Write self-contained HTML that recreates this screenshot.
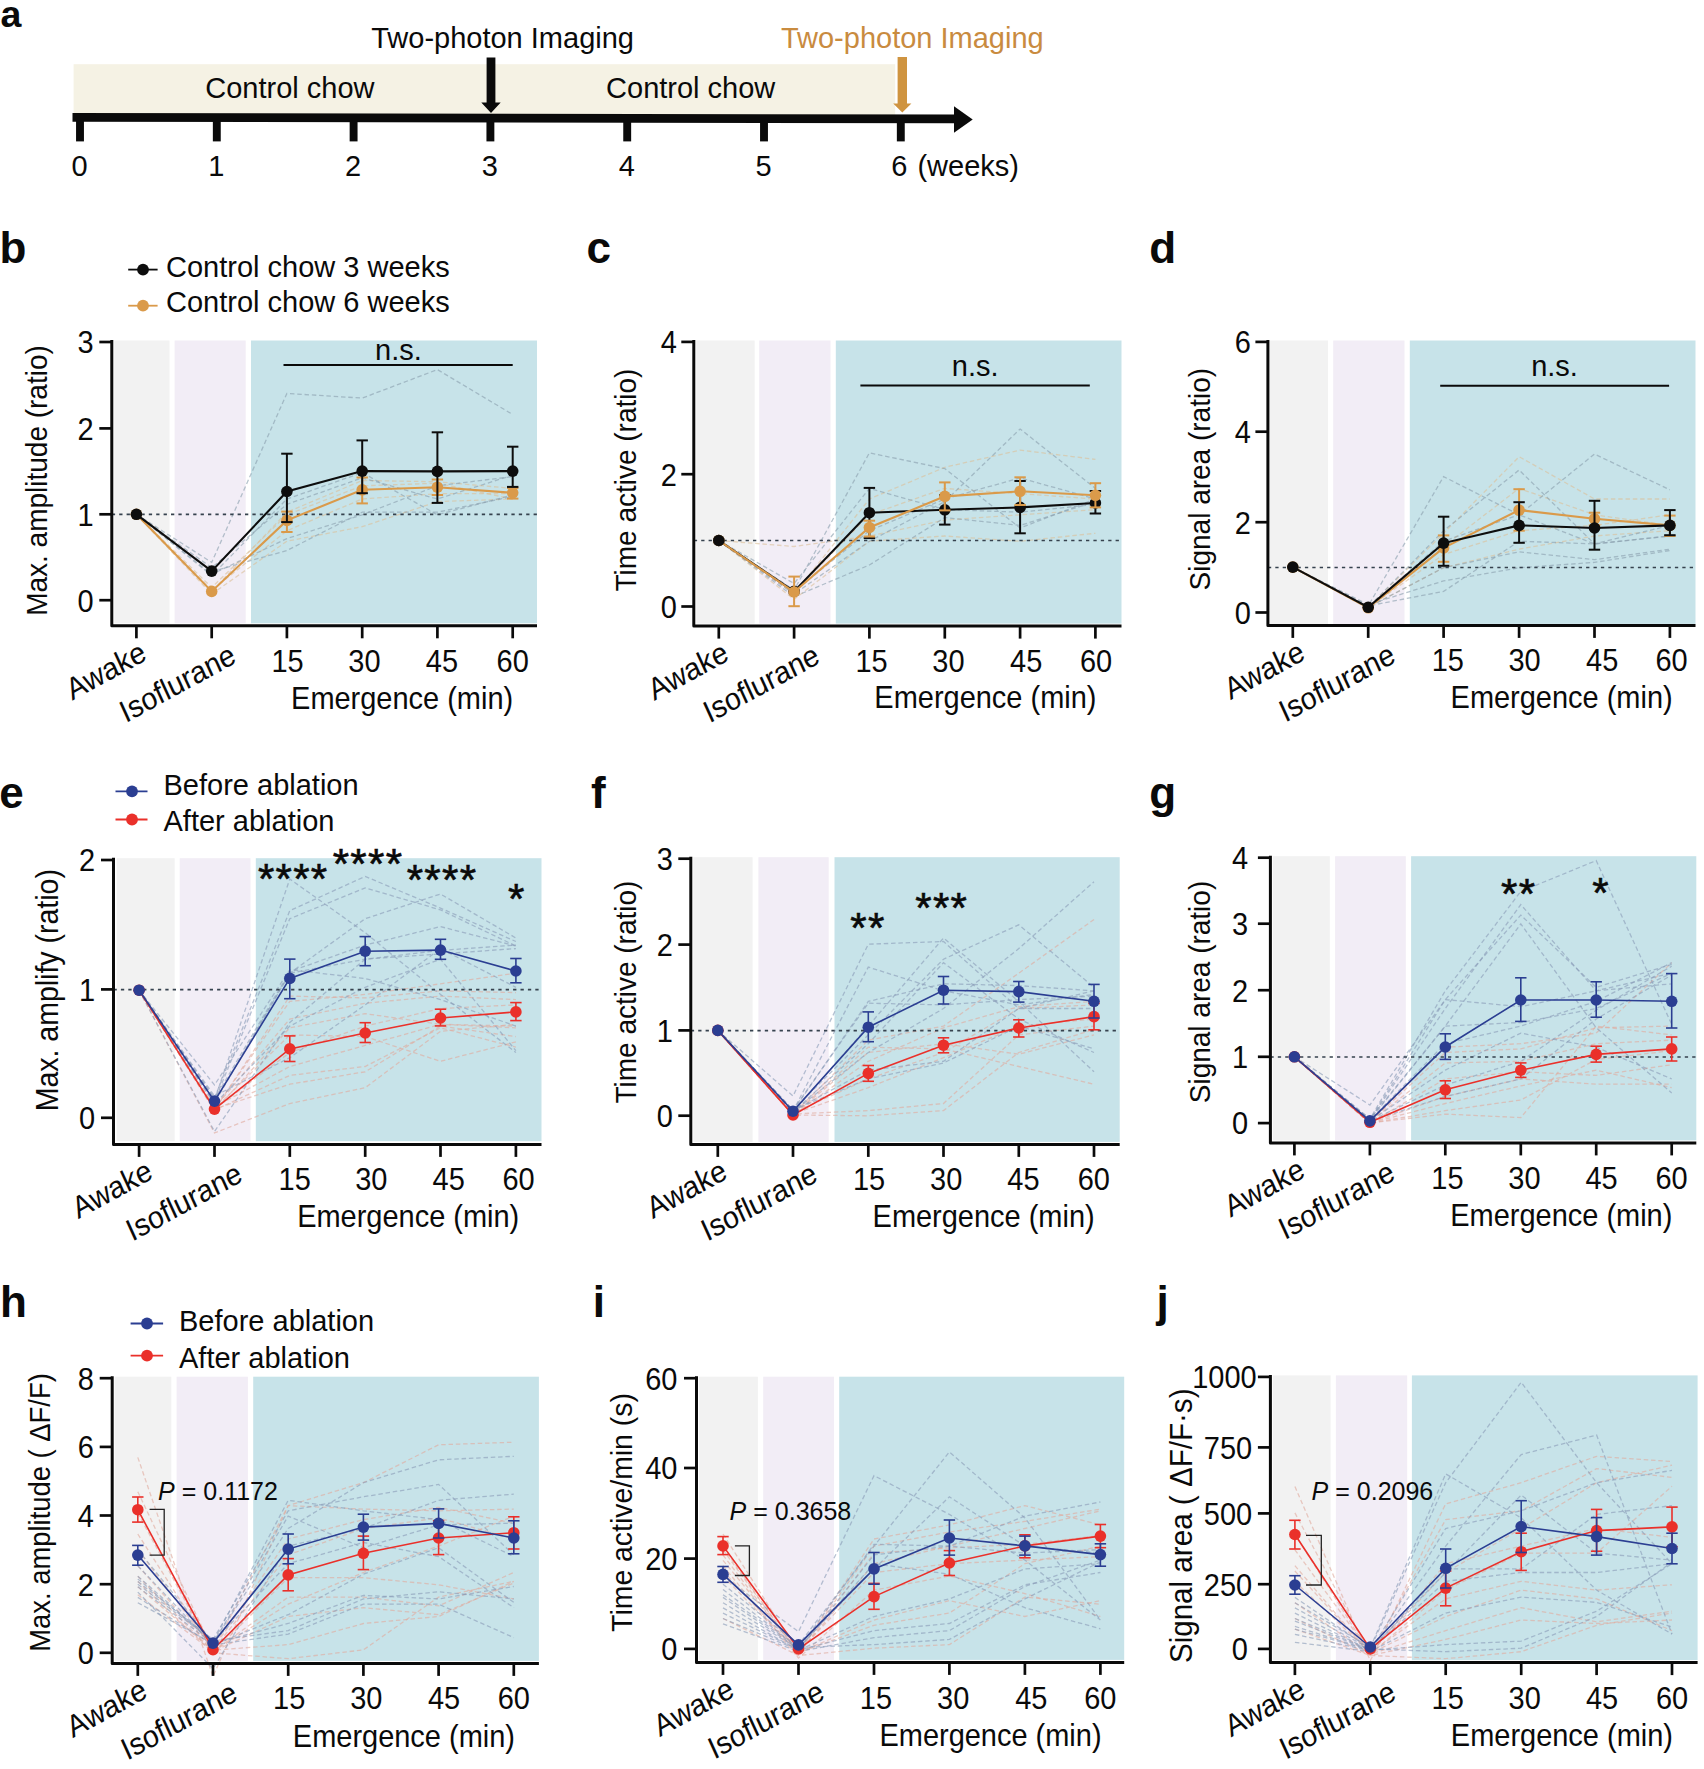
<!DOCTYPE html>
<html><head><meta charset="utf-8"><title>Figure</title>
<style>
html,body{margin:0;padding:0;background:#fff;}
body{width:1704px;height:1769px;overflow:hidden;}
svg{display:block;font-family:"Liberation Sans", sans-serif;fill:#0a0a0a;}
</style></head><body>
<svg width="1704" height="1769" viewBox="0 0 1704 1769">
<text font-size="37.5" font-weight="bold" transform="translate(0.5 26.6) scale(1 1)">a</text>
<rect x="73.6" y="64.2" width="821.6" height="51.0" fill="#f5f2e4"/>
<line x1="72.5" y1="117.3" x2="955.0" y2="118.9" stroke="#0a0a0a" stroke-width="8.8" />
<polygon points="954,106.3 972.7,119.5 954,132.7" fill="#0a0a0a"/>
<line x1="80.0" y1="120.0" x2="80.0" y2="141.4" stroke="#0a0a0a" stroke-width="7.9" />
<text font-size="29" text-anchor="middle" transform="translate(79.5 176.0) scale(1.0 1)">0</text>
<line x1="216.8" y1="120.0" x2="216.8" y2="141.4" stroke="#0a0a0a" stroke-width="7.9" />
<text font-size="29" text-anchor="middle" transform="translate(216.3 176.0) scale(1.0 1)">1</text>
<line x1="353.6" y1="120.0" x2="353.6" y2="141.4" stroke="#0a0a0a" stroke-width="7.9" />
<text font-size="29" text-anchor="middle" transform="translate(353.1 176.0) scale(1.0 1)">2</text>
<line x1="490.4" y1="120.0" x2="490.4" y2="141.4" stroke="#0a0a0a" stroke-width="7.9" />
<text font-size="29" text-anchor="middle" transform="translate(489.9 176.0) scale(1.0 1)">3</text>
<line x1="627.2" y1="120.0" x2="627.2" y2="141.4" stroke="#0a0a0a" stroke-width="7.9" />
<text font-size="29" text-anchor="middle" transform="translate(626.7 176.0) scale(1.0 1)">4</text>
<line x1="764.0" y1="120.0" x2="764.0" y2="141.4" stroke="#0a0a0a" stroke-width="7.9" />
<text font-size="29" text-anchor="middle" transform="translate(763.5 176.0) scale(1.0 1)">5</text>
<line x1="900.8" y1="120.0" x2="900.8" y2="141.4" stroke="#0a0a0a" stroke-width="7.9" />
<text font-size="29" text-anchor="middle" transform="translate(899.2 176.0) scale(1.0 1)">6</text>
<text font-size="29" transform="translate(917.4 176.0) scale(1.0 1)">(weeks)</text>
<text font-size="29" text-anchor="middle" transform="translate(289.9 98.0) scale(1.0 1)">Control chow</text>
<text font-size="29" text-anchor="middle" transform="translate(690.7 98.0) scale(1.0 1)">Control chow</text>
<text font-size="29" text-anchor="middle" transform="translate(502.6 47.5) scale(1.0 1)">Two-photon Imaging</text>
<text font-size="29" text-anchor="middle" fill="#c98b3f" transform="translate(912.3 47.5) scale(1.0 1)">Two-photon Imaging</text>
<polygon points="486.6,57.5 495.4,57.5 495.4,102.5 500.7,102.5 491.0,113 481.3,102.5 486.6,102.5" fill="#0a0a0a"/>
<polygon points="897.6,57 907.0,57 907.0,103.4 911.4,103.4 902.3,112.4 893.2,103.4 897.6,103.4" fill="#cf9440"/>
<rect x="114.3" y="340.5" width="55.2" height="282.8" fill="#f2f2f2"/>
<rect x="174.6" y="340.5" width="71.1" height="282.8" fill="#f2edf6"/>
<rect x="251.0" y="340.5" width="286.0" height="282.8" fill="#c7e3e9"/>
<polyline points="136.4,514.3 211.7,591.4 286.9,512.2 362.2,480.5 437.4,481.8 512.7,488.4" fill="none" stroke="#dcc09a" stroke-width="1.3" stroke-dasharray="4.5 2.8" opacity="0.62"/>
<polyline points="136.4,514.3 211.7,594.1 286.9,541.2 362.2,526.7 437.4,501.6 512.7,499.0" fill="none" stroke="#dcc09a" stroke-width="1.3" stroke-dasharray="4.5 2.8" opacity="0.62"/>
<polyline points="136.4,514.3 211.7,590.1 286.9,530.7 362.2,499.0 437.4,493.7 512.7,493.7" fill="none" stroke="#dcc09a" stroke-width="1.3" stroke-dasharray="4.5 2.8" opacity="0.62"/>
<polyline points="136.4,514.3 211.7,587.5 286.9,514.8 362.2,485.8 437.4,483.2 512.7,499.0" fill="none" stroke="#dcc09a" stroke-width="1.3" stroke-dasharray="4.5 2.8" opacity="0.62"/>
<polyline points="136.4,514.3 211.7,562.4 286.9,393.4 362.2,398.1 437.4,369.6 512.7,414.5" fill="none" stroke="#8aa0ae" stroke-width="1.3" stroke-dasharray="4.5 2.8" opacity="0.62"/>
<polyline points="136.4,514.3 211.7,575.6 286.9,499.0 362.2,472.6 437.4,514.8 512.7,495.0" fill="none" stroke="#8aa0ae" stroke-width="1.3" stroke-dasharray="4.5 2.8" opacity="0.62"/>
<polyline points="136.4,514.3 211.7,574.3 286.9,538.6 362.2,514.8 437.4,485.8 512.7,476.6" fill="none" stroke="#8aa0ae" stroke-width="1.3" stroke-dasharray="4.5 2.8" opacity="0.62"/>
<polyline points="136.4,514.3 211.7,571.6 286.9,550.5 362.2,512.2 437.4,512.2 512.7,496.4" fill="none" stroke="#8aa0ae" stroke-width="1.3" stroke-dasharray="4.5 2.8" opacity="0.62"/>
<polyline points="136.4,514.3 211.7,567.7 286.9,504.3 362.2,477.9 437.4,499.0 512.7,475.2" fill="none" stroke="#8aa0ae" stroke-width="1.3" stroke-dasharray="4.5 2.8" opacity="0.62"/>
<line x1="111.8" y1="514.3" x2="537.0" y2="514.3" stroke="#36424e" stroke-width="1.7" stroke-dasharray="3.3 4.1"/>
<polyline points="111.8,340.0 111.8,625.8 537.0,625.8" fill="none" stroke="#0a0a0a" stroke-width="3" stroke-linejoin="round"/>
<line x1="99.3" y1="342.0" x2="111.8" y2="342.0" stroke="#0a0a0a" stroke-width="2.7" />
<text font-size="31.6" text-anchor="end" transform="translate(93.5 353.3) scale(0.917 1)">3</text>
<line x1="99.3" y1="428.4" x2="111.8" y2="428.4" stroke="#0a0a0a" stroke-width="2.7" />
<text font-size="31.6" text-anchor="end" transform="translate(93.5 439.7) scale(0.917 1)">2</text>
<line x1="99.3" y1="514.3" x2="111.8" y2="514.3" stroke="#0a0a0a" stroke-width="2.7" />
<text font-size="31.6" text-anchor="end" transform="translate(93.5 525.6) scale(0.917 1)">1</text>
<line x1="99.3" y1="600.2" x2="111.8" y2="600.2" stroke="#0a0a0a" stroke-width="2.7" />
<text font-size="31.6" text-anchor="end" transform="translate(93.5 611.5) scale(0.917 1)">0</text>
<line x1="136.4" y1="625.8" x2="136.4" y2="638.3" stroke="#0a0a0a" stroke-width="2.7" />
<line x1="211.7" y1="625.8" x2="211.7" y2="638.3" stroke="#0a0a0a" stroke-width="2.7" />
<line x1="286.9" y1="625.8" x2="286.9" y2="638.3" stroke="#0a0a0a" stroke-width="2.7" />
<line x1="362.2" y1="625.8" x2="362.2" y2="638.3" stroke="#0a0a0a" stroke-width="2.7" />
<line x1="437.4" y1="625.8" x2="437.4" y2="638.3" stroke="#0a0a0a" stroke-width="2.7" />
<line x1="512.7" y1="625.8" x2="512.7" y2="638.3" stroke="#0a0a0a" stroke-width="2.7" />
<text font-size="31.6" text-anchor="middle" transform="translate(287.5 671.9) scale(0.917 1)">15</text>
<text font-size="31.6" text-anchor="middle" transform="translate(364.4 671.9) scale(0.917 1)">30</text>
<text font-size="31.6" text-anchor="middle" transform="translate(441.9 671.9) scale(0.917 1)">45</text>
<text font-size="31.6" text-anchor="middle" transform="translate(512.7 671.9) scale(0.917 1)">60</text>
<text font-size="31.6" text-anchor="middle" transform="translate(402.1 708.5) scale(0.917 1)">Emergence (min)</text>
<text font-size="31.1" text-anchor="end" transform="translate(148.3 659.2) scale(0.917 1) rotate(-26.6)">Awake</text>
<text font-size="31.1" text-anchor="end" transform="translate(237.8 662.0) scale(0.917 1) rotate(-26.6)">Isoflurane</text>
<text font-size="28" text-anchor="middle" transform="translate(47.0 480.5) scale(1.07 1) rotate(-90)">Max. amplitude (ratio)</text>
<polyline points="136.4,514.3 211.7,591.4 286.9,520.4 362.2,489.8 437.4,487.2 512.7,492.8" fill="none" stroke="#da9a4a" stroke-width="2.1" />
<line x1="286.9" y1="511.6" x2="286.9" y2="532.0" stroke="#da9a4a" stroke-width="2.0" />
<line x1="281.2" y1="511.6" x2="292.6" y2="511.6" stroke="#da9a4a" stroke-width="2.0" />
<line x1="281.2" y1="532.0" x2="292.6" y2="532.0" stroke="#da9a4a" stroke-width="2.0" />
<line x1="362.2" y1="477.5" x2="362.2" y2="503.4" stroke="#da9a4a" stroke-width="2.0" />
<line x1="356.5" y1="477.5" x2="367.9" y2="477.5" stroke="#da9a4a" stroke-width="2.0" />
<line x1="356.5" y1="503.4" x2="367.9" y2="503.4" stroke="#da9a4a" stroke-width="2.0" />
<line x1="437.4" y1="479.5" x2="437.4" y2="495.0" stroke="#da9a4a" stroke-width="2.0" />
<line x1="431.7" y1="479.5" x2="443.1" y2="479.5" stroke="#da9a4a" stroke-width="2.0" />
<line x1="431.7" y1="495.0" x2="443.1" y2="495.0" stroke="#da9a4a" stroke-width="2.0" />
<line x1="512.7" y1="488.0" x2="512.7" y2="498.6" stroke="#da9a4a" stroke-width="2.0" />
<line x1="507.0" y1="488.0" x2="518.4" y2="488.0" stroke="#da9a4a" stroke-width="2.0" />
<line x1="507.0" y1="498.6" x2="518.4" y2="498.6" stroke="#da9a4a" stroke-width="2.0" />
<circle cx="136.4" cy="514.3" r="5.8" fill="#da9a4a"/>
<circle cx="211.7" cy="591.4" r="5.8" fill="#da9a4a"/>
<circle cx="286.9" cy="520.4" r="5.8" fill="#da9a4a"/>
<circle cx="362.2" cy="489.8" r="5.8" fill="#da9a4a"/>
<circle cx="437.4" cy="487.2" r="5.8" fill="#da9a4a"/>
<circle cx="512.7" cy="492.8" r="5.8" fill="#da9a4a"/>
<polyline points="136.4,514.3 211.7,571.1 286.9,491.5 362.2,471.1 437.4,471.4 512.7,471.1" fill="none" stroke="#0d0d0d" stroke-width="2.1" />
<line x1="286.9" y1="453.7" x2="286.9" y2="522.1" stroke="#0d0d0d" stroke-width="2.0" />
<line x1="281.2" y1="453.7" x2="292.6" y2="453.7" stroke="#0d0d0d" stroke-width="2.0" />
<line x1="281.2" y1="522.1" x2="292.6" y2="522.1" stroke="#0d0d0d" stroke-width="2.0" />
<line x1="362.2" y1="440.4" x2="362.2" y2="493.2" stroke="#0d0d0d" stroke-width="2.0" />
<line x1="356.5" y1="440.4" x2="367.9" y2="440.4" stroke="#0d0d0d" stroke-width="2.0" />
<line x1="356.5" y1="493.2" x2="367.9" y2="493.2" stroke="#0d0d0d" stroke-width="2.0" />
<line x1="437.4" y1="432.3" x2="437.4" y2="502.9" stroke="#0d0d0d" stroke-width="2.0" />
<line x1="431.7" y1="432.3" x2="443.1" y2="432.3" stroke="#0d0d0d" stroke-width="2.0" />
<line x1="431.7" y1="502.9" x2="443.1" y2="502.9" stroke="#0d0d0d" stroke-width="2.0" />
<line x1="512.7" y1="446.7" x2="512.7" y2="486.9" stroke="#0d0d0d" stroke-width="2.0" />
<line x1="507.0" y1="446.7" x2="518.4" y2="446.7" stroke="#0d0d0d" stroke-width="2.0" />
<line x1="507.0" y1="486.9" x2="518.4" y2="486.9" stroke="#0d0d0d" stroke-width="2.0" />
<circle cx="136.4" cy="514.3" r="5.8" fill="#0d0d0d"/>
<circle cx="211.7" cy="571.1" r="5.8" fill="#0d0d0d"/>
<circle cx="286.9" cy="491.5" r="5.8" fill="#0d0d0d"/>
<circle cx="362.2" cy="471.1" r="5.8" fill="#0d0d0d"/>
<circle cx="437.4" cy="471.4" r="5.8" fill="#0d0d0d"/>
<circle cx="512.7" cy="471.1" r="5.8" fill="#0d0d0d"/>
<text font-size="44" font-weight="bold" transform="translate(-0.6 262.5) scale(1 1)">b</text>
<line x1="283.5" y1="364.9" x2="512.7" y2="364.9" stroke="#0a0a0a" stroke-width="2" />
<text font-size="29" text-anchor="middle" transform="translate(398.4 359.6) scale(1.0 1)">n.s.</text>
<line x1="128.2" y1="269.6" x2="157.6" y2="269.6" stroke="#0d0d0d" stroke-width="1.8" />
<circle cx="143.0" cy="269.6" r="5.9" fill="#0d0d0d"/>
<line x1="128.2" y1="305.7" x2="157.6" y2="305.7" stroke="#da9a4a" stroke-width="1.8" />
<circle cx="143.0" cy="305.7" r="5.9" fill="#da9a4a"/>
<text font-size="29" transform="translate(166.0 277.2) scale(1.0 1)">Control chow 3 weeks</text>
<text font-size="29" transform="translate(166.0 312.4) scale(1.0 1)">Control chow 6 weeks</text>
<rect x="696.3" y="340.5" width="58.4" height="283.1" fill="#f2f2f2"/>
<rect x="759.2" y="340.5" width="71.3" height="283.1" fill="#f2edf6"/>
<rect x="835.8" y="340.5" width="285.7" height="283.1" fill="#c7e3e9"/>
<polyline points="718.8,540.5 794.1,594.1 869.4,499.0 944.8,467.3 1020.1,450.1 1095.4,459.4" fill="none" stroke="#dcc09a" stroke-width="1.3" stroke-dasharray="4.5 2.8" opacity="0.62"/>
<polyline points="718.8,540.5 794.1,546.5 869.4,536.0 944.8,520.1 1020.1,514.8 1095.4,509.6" fill="none" stroke="#dcc09a" stroke-width="1.3" stroke-dasharray="4.5 2.8" opacity="0.62"/>
<polyline points="718.8,540.5 794.1,599.3 869.4,541.2 944.8,536.0 1020.1,541.2 1095.4,533.3" fill="none" stroke="#dcc09a" stroke-width="1.3" stroke-dasharray="4.5 2.8" opacity="0.62"/>
<polyline points="718.8,540.5 794.1,592.7 869.4,514.8 944.8,488.4 1020.1,493.7 1095.4,499.0" fill="none" stroke="#dcc09a" stroke-width="1.3" stroke-dasharray="4.5 2.8" opacity="0.62"/>
<polyline points="718.8,540.5 794.1,590.1 869.4,452.8 944.8,468.6 1020.1,528.0 1095.4,499.0" fill="none" stroke="#8aa0ae" stroke-width="1.3" stroke-dasharray="4.5 2.8" opacity="0.62"/>
<polyline points="718.8,540.5 794.1,594.1 869.4,541.2 944.8,501.6 1020.1,429.0 1095.4,488.4" fill="none" stroke="#8aa0ae" stroke-width="1.3" stroke-dasharray="4.5 2.8" opacity="0.62"/>
<polyline points="718.8,540.5 794.1,583.5 869.4,488.4 944.8,509.6 1020.1,512.2 1095.4,504.3" fill="none" stroke="#8aa0ae" stroke-width="1.3" stroke-dasharray="4.5 2.8" opacity="0.62"/>
<polyline points="718.8,540.5 794.1,596.7 869.4,565.0 944.8,517.5 1020.1,525.4 1095.4,501.6" fill="none" stroke="#8aa0ae" stroke-width="1.3" stroke-dasharray="4.5 2.8" opacity="0.62"/>
<polyline points="718.8,540.5 794.1,591.4 869.4,530.7 944.8,499.0 1020.1,477.9 1095.4,499.0" fill="none" stroke="#8aa0ae" stroke-width="1.3" stroke-dasharray="4.5 2.8" opacity="0.62"/>
<line x1="693.8" y1="540.5" x2="1121.5" y2="540.5" stroke="#36424e" stroke-width="1.7" stroke-dasharray="3.3 4.1"/>
<polyline points="693.8,340.0 693.8,626.1 1121.5,626.1" fill="none" stroke="#0a0a0a" stroke-width="3" stroke-linejoin="round"/>
<line x1="681.3" y1="341.9" x2="693.8" y2="341.9" stroke="#0a0a0a" stroke-width="2.7" />
<text font-size="31.6" text-anchor="end" transform="translate(676.9 353.2) scale(0.917 1)">4</text>
<line x1="681.3" y1="474.2" x2="693.8" y2="474.2" stroke="#0a0a0a" stroke-width="2.7" />
<text font-size="31.6" text-anchor="end" transform="translate(676.9 485.5) scale(0.917 1)">2</text>
<line x1="681.3" y1="606.5" x2="693.8" y2="606.5" stroke="#0a0a0a" stroke-width="2.7" />
<text font-size="31.6" text-anchor="end" transform="translate(676.9 617.8) scale(0.917 1)">0</text>
<line x1="718.8" y1="626.1" x2="718.8" y2="638.6" stroke="#0a0a0a" stroke-width="2.7" />
<line x1="794.1" y1="626.1" x2="794.1" y2="638.6" stroke="#0a0a0a" stroke-width="2.7" />
<line x1="869.4" y1="626.1" x2="869.4" y2="638.6" stroke="#0a0a0a" stroke-width="2.7" />
<line x1="944.8" y1="626.1" x2="944.8" y2="638.6" stroke="#0a0a0a" stroke-width="2.7" />
<line x1="1020.1" y1="626.1" x2="1020.1" y2="638.6" stroke="#0a0a0a" stroke-width="2.7" />
<line x1="1095.4" y1="626.1" x2="1095.4" y2="638.6" stroke="#0a0a0a" stroke-width="2.7" />
<text font-size="31.6" text-anchor="middle" transform="translate(871.5 671.7) scale(0.917 1)">15</text>
<text font-size="31.6" text-anchor="middle" transform="translate(948.4 671.7) scale(0.917 1)">30</text>
<text font-size="31.6" text-anchor="middle" transform="translate(1026.2 671.7) scale(0.917 1)">45</text>
<text font-size="31.6" text-anchor="middle" transform="translate(1096.0 671.7) scale(0.917 1)">60</text>
<text font-size="31.6" text-anchor="middle" transform="translate(985.4 708.3) scale(0.917 1)">Emergence (min)</text>
<text font-size="31.1" text-anchor="end" transform="translate(730.4 659.5) scale(0.917 1) rotate(-26.6)">Awake</text>
<text font-size="31.1" text-anchor="end" transform="translate(821.5 662.3) scale(0.917 1) rotate(-26.6)">Isoflurane</text>
<text font-size="28" text-anchor="middle" transform="translate(636.4 480.1) scale(1.07 1) rotate(-90)">Time active (ratio)</text>
<polyline points="718.8,540.5 794.1,591.4 869.4,512.7 944.8,509.8 1020.1,507.4 1095.4,503.0" fill="none" stroke="#0d0d0d" stroke-width="2.1" />
<line x1="869.4" y1="487.9" x2="869.4" y2="538.1" stroke="#0d0d0d" stroke-width="2.0" />
<line x1="863.7" y1="487.9" x2="875.1" y2="487.9" stroke="#0d0d0d" stroke-width="2.0" />
<line x1="863.7" y1="538.1" x2="875.1" y2="538.1" stroke="#0d0d0d" stroke-width="2.0" />
<line x1="944.8" y1="495.0" x2="944.8" y2="524.6" stroke="#0d0d0d" stroke-width="2.0" />
<line x1="939.1" y1="495.0" x2="950.5" y2="495.0" stroke="#0d0d0d" stroke-width="2.0" />
<line x1="939.1" y1="524.6" x2="950.5" y2="524.6" stroke="#0d0d0d" stroke-width="2.0" />
<line x1="1020.1" y1="481.0" x2="1020.1" y2="533.3" stroke="#0d0d0d" stroke-width="2.0" />
<line x1="1014.4" y1="481.0" x2="1025.8" y2="481.0" stroke="#0d0d0d" stroke-width="2.0" />
<line x1="1014.4" y1="533.3" x2="1025.8" y2="533.3" stroke="#0d0d0d" stroke-width="2.0" />
<line x1="1095.4" y1="491.0" x2="1095.4" y2="513.5" stroke="#0d0d0d" stroke-width="2.0" />
<line x1="1089.7" y1="491.0" x2="1101.1" y2="491.0" stroke="#0d0d0d" stroke-width="2.0" />
<line x1="1089.7" y1="513.5" x2="1101.1" y2="513.5" stroke="#0d0d0d" stroke-width="2.0" />
<circle cx="718.8" cy="540.5" r="5.8" fill="#0d0d0d"/>
<circle cx="794.1" cy="591.4" r="5.8" fill="#0d0d0d"/>
<circle cx="869.4" cy="512.7" r="5.8" fill="#0d0d0d"/>
<circle cx="944.8" cy="509.8" r="5.8" fill="#0d0d0d"/>
<circle cx="1020.1" cy="507.4" r="5.8" fill="#0d0d0d"/>
<circle cx="1095.4" cy="503.0" r="5.8" fill="#0d0d0d"/>
<polyline points="718.8,540.5 794.1,592.0 869.4,527.5 944.8,496.4 1020.1,491.3 1095.4,495.3" fill="none" stroke="#da9a4a" stroke-width="2.1" />
<line x1="794.1" y1="576.6" x2="794.1" y2="606.2" stroke="#da9a4a" stroke-width="2.0" />
<line x1="788.4" y1="576.6" x2="799.8" y2="576.6" stroke="#da9a4a" stroke-width="2.0" />
<line x1="788.4" y1="606.2" x2="799.8" y2="606.2" stroke="#da9a4a" stroke-width="2.0" />
<line x1="869.4" y1="520.7" x2="869.4" y2="536.5" stroke="#da9a4a" stroke-width="2.0" />
<line x1="863.7" y1="520.7" x2="875.1" y2="520.7" stroke="#da9a4a" stroke-width="2.0" />
<line x1="863.7" y1="536.5" x2="875.1" y2="536.5" stroke="#da9a4a" stroke-width="2.0" />
<line x1="944.8" y1="482.4" x2="944.8" y2="510.4" stroke="#da9a4a" stroke-width="2.0" />
<line x1="939.1" y1="482.4" x2="950.5" y2="482.4" stroke="#da9a4a" stroke-width="2.0" />
<line x1="939.1" y1="510.4" x2="950.5" y2="510.4" stroke="#da9a4a" stroke-width="2.0" />
<line x1="1020.1" y1="477.3" x2="1020.1" y2="505.0" stroke="#da9a4a" stroke-width="2.0" />
<line x1="1014.4" y1="477.3" x2="1025.8" y2="477.3" stroke="#da9a4a" stroke-width="2.0" />
<line x1="1014.4" y1="505.0" x2="1025.8" y2="505.0" stroke="#da9a4a" stroke-width="2.0" />
<line x1="1095.4" y1="483.2" x2="1095.4" y2="507.4" stroke="#da9a4a" stroke-width="2.0" />
<line x1="1089.7" y1="483.2" x2="1101.1" y2="483.2" stroke="#da9a4a" stroke-width="2.0" />
<line x1="1089.7" y1="507.4" x2="1101.1" y2="507.4" stroke="#da9a4a" stroke-width="2.0" />
<circle cx="718.8" cy="540.5" r="5.8" fill="#da9a4a"/>
<circle cx="794.1" cy="592.0" r="5.8" fill="#da9a4a"/>
<circle cx="869.4" cy="527.5" r="5.8" fill="#da9a4a"/>
<circle cx="944.8" cy="496.4" r="5.8" fill="#da9a4a"/>
<circle cx="1020.1" cy="491.3" r="5.8" fill="#da9a4a"/>
<circle cx="1095.4" cy="495.3" r="5.8" fill="#da9a4a"/>
<circle cx="718.8" cy="540.5" r="5.8" fill="#0d0d0d"/>
<text font-size="44" font-weight="bold" transform="translate(586.4 262.5) scale(1 1)">c</text>
<line x1="860.4" y1="385.5" x2="1089.8" y2="385.5" stroke="#0a0a0a" stroke-width="2" />
<text font-size="29" text-anchor="middle" transform="translate(975.2 376.2) scale(1.0 1)">n.s.</text>
<rect x="1269.4" y="340.5" width="58.6" height="283.4" fill="#f2f2f2"/>
<rect x="1333.2" y="340.5" width="71.3" height="283.4" fill="#f2edf6"/>
<rect x="1409.8" y="340.5" width="285.7" height="283.4" fill="#c7e3e9"/>
<polyline points="1292.8,567.1 1368.2,607.3 1443.6,533.3 1519.1,456.7 1594.5,499.0 1669.9,499.0" fill="none" stroke="#dcc09a" stroke-width="1.3" stroke-dasharray="4.5 2.8" opacity="0.62"/>
<polyline points="1292.8,567.1 1368.2,608.6 1443.6,546.5 1519.1,488.4 1594.5,514.8 1669.9,525.4" fill="none" stroke="#dcc09a" stroke-width="1.3" stroke-dasharray="4.5 2.8" opacity="0.62"/>
<polyline points="1292.8,567.1 1368.2,607.3 1443.6,567.7 1519.1,549.2 1594.5,536.0 1669.9,530.7" fill="none" stroke="#dcc09a" stroke-width="1.3" stroke-dasharray="4.5 2.8" opacity="0.62"/>
<polyline points="1292.8,567.1 1368.2,607.8 1443.6,554.5 1519.1,530.7 1594.5,525.4 1669.9,514.8" fill="none" stroke="#dcc09a" stroke-width="1.3" stroke-dasharray="4.5 2.8" opacity="0.62"/>
<polyline points="1292.8,567.1 1368.2,605.9 1443.6,476.6 1519.1,514.8 1594.5,543.9 1669.9,536.0" fill="none" stroke="#8aa0ae" stroke-width="1.3" stroke-dasharray="4.5 2.8" opacity="0.62"/>
<polyline points="1292.8,567.1 1368.2,607.3 1443.6,530.7 1519.1,470.0 1594.5,543.9 1669.9,525.4" fill="none" stroke="#8aa0ae" stroke-width="1.3" stroke-dasharray="4.5 2.8" opacity="0.62"/>
<polyline points="1292.8,567.1 1368.2,607.3 1443.6,541.2 1519.1,514.8 1594.5,454.1 1669.9,489.8" fill="none" stroke="#8aa0ae" stroke-width="1.3" stroke-dasharray="4.5 2.8" opacity="0.62"/>
<polyline points="1292.8,567.1 1368.2,605.9 1443.6,591.4 1519.1,541.2 1594.5,543.9 1669.9,536.0" fill="none" stroke="#8aa0ae" stroke-width="1.3" stroke-dasharray="4.5 2.8" opacity="0.62"/>
<polyline points="1292.8,567.1 1368.2,607.3 1443.6,567.7 1519.1,551.8 1594.5,559.7 1669.9,549.2" fill="none" stroke="#8aa0ae" stroke-width="1.3" stroke-dasharray="4.5 2.8" opacity="0.62"/>
<polyline points="1292.8,567.1 1368.2,604.6 1443.6,580.9 1519.1,567.7 1594.5,562.4 1669.9,550.5" fill="none" stroke="#8aa0ae" stroke-width="1.3" stroke-dasharray="4.5 2.8" opacity="0.62"/>
<line x1="1267.9" y1="567.5" x2="1695.5" y2="567.5" stroke="#36424e" stroke-width="1.7" stroke-dasharray="3.3 4.1"/>
<polyline points="1267.9,340.0 1267.9,625.4 1695.5,625.4" fill="none" stroke="#0a0a0a" stroke-width="3" stroke-linejoin="round"/>
<line x1="1255.4" y1="341.9" x2="1267.9" y2="341.9" stroke="#0a0a0a" stroke-width="2.7" />
<text font-size="31.6" text-anchor="end" transform="translate(1250.8 353.2) scale(0.917 1)">6</text>
<line x1="1255.4" y1="431.7" x2="1267.9" y2="431.7" stroke="#0a0a0a" stroke-width="2.7" />
<text font-size="31.6" text-anchor="end" transform="translate(1250.8 443.0) scale(0.917 1)">4</text>
<line x1="1255.4" y1="522.2" x2="1267.9" y2="522.2" stroke="#0a0a0a" stroke-width="2.7" />
<text font-size="31.6" text-anchor="end" transform="translate(1250.8 533.5) scale(0.917 1)">2</text>
<line x1="1255.4" y1="612.5" x2="1267.9" y2="612.5" stroke="#0a0a0a" stroke-width="2.7" />
<text font-size="31.6" text-anchor="end" transform="translate(1250.8 623.8) scale(0.917 1)">0</text>
<line x1="1292.8" y1="625.4" x2="1292.8" y2="637.9" stroke="#0a0a0a" stroke-width="2.7" />
<line x1="1368.2" y1="625.4" x2="1368.2" y2="637.9" stroke="#0a0a0a" stroke-width="2.7" />
<line x1="1443.6" y1="625.4" x2="1443.6" y2="637.9" stroke="#0a0a0a" stroke-width="2.7" />
<line x1="1519.1" y1="625.4" x2="1519.1" y2="637.9" stroke="#0a0a0a" stroke-width="2.7" />
<line x1="1594.5" y1="625.4" x2="1594.5" y2="637.9" stroke="#0a0a0a" stroke-width="2.7" />
<line x1="1669.9" y1="625.4" x2="1669.9" y2="637.9" stroke="#0a0a0a" stroke-width="2.7" />
<text font-size="31.6" text-anchor="middle" transform="translate(1447.8 670.8) scale(0.917 1)">15</text>
<text font-size="31.6" text-anchor="middle" transform="translate(1524.5 670.8) scale(0.917 1)">30</text>
<text font-size="31.6" text-anchor="middle" transform="translate(1602.2 670.8) scale(0.917 1)">45</text>
<text font-size="31.6" text-anchor="middle" transform="translate(1671.6 670.8) scale(0.917 1)">60</text>
<text font-size="31.6" text-anchor="middle" transform="translate(1561.6 707.7) scale(0.917 1)">Emergence (min)</text>
<text font-size="31.1" text-anchor="end" transform="translate(1306.6 658.8) scale(0.917 1) rotate(-26.6)">Awake</text>
<text font-size="31.1" text-anchor="end" transform="translate(1397.2 661.6) scale(0.917 1) rotate(-26.6)">Isoflurane</text>
<text font-size="28" text-anchor="middle" transform="translate(1210.3 479.2) scale(1.07 1) rotate(-90)">Signal area (ratio)</text>
<polyline points="1292.8,567.1 1368.2,607.8 1443.6,547.9 1519.1,510.1 1594.5,518.8 1669.9,525.4" fill="none" stroke="#da9a4a" stroke-width="2.1" />
<line x1="1443.6" y1="535.4" x2="1443.6" y2="561.8" stroke="#da9a4a" stroke-width="2.0" />
<line x1="1437.9" y1="535.4" x2="1449.3" y2="535.4" stroke="#da9a4a" stroke-width="2.0" />
<line x1="1437.9" y1="561.8" x2="1449.3" y2="561.8" stroke="#da9a4a" stroke-width="2.0" />
<line x1="1519.1" y1="489.2" x2="1519.1" y2="530.7" stroke="#da9a4a" stroke-width="2.0" />
<line x1="1513.4" y1="489.2" x2="1524.8" y2="489.2" stroke="#da9a4a" stroke-width="2.0" />
<line x1="1513.4" y1="530.7" x2="1524.8" y2="530.7" stroke="#da9a4a" stroke-width="2.0" />
<line x1="1594.5" y1="512.7" x2="1594.5" y2="525.4" stroke="#da9a4a" stroke-width="2.0" />
<line x1="1588.8" y1="512.7" x2="1600.2" y2="512.7" stroke="#da9a4a" stroke-width="2.0" />
<line x1="1588.8" y1="525.4" x2="1600.2" y2="525.4" stroke="#da9a4a" stroke-width="2.0" />
<line x1="1669.9" y1="515.6" x2="1669.9" y2="536.0" stroke="#da9a4a" stroke-width="2.0" />
<line x1="1664.2" y1="515.6" x2="1675.6" y2="515.6" stroke="#da9a4a" stroke-width="2.0" />
<line x1="1664.2" y1="536.0" x2="1675.6" y2="536.0" stroke="#da9a4a" stroke-width="2.0" />
<circle cx="1292.8" cy="567.1" r="5.8" fill="#da9a4a"/>
<circle cx="1368.2" cy="607.8" r="5.8" fill="#da9a4a"/>
<circle cx="1443.6" cy="547.9" r="5.8" fill="#da9a4a"/>
<circle cx="1519.1" cy="510.1" r="5.8" fill="#da9a4a"/>
<circle cx="1594.5" cy="518.8" r="5.8" fill="#da9a4a"/>
<circle cx="1669.9" cy="525.4" r="5.8" fill="#da9a4a"/>
<polyline points="1292.8,567.1 1368.2,607.3 1443.6,543.1 1519.1,525.4 1594.5,528.0 1669.9,525.4" fill="none" stroke="#0d0d0d" stroke-width="2.1" />
<line x1="1443.6" y1="516.7" x2="1443.6" y2="565.8" stroke="#0d0d0d" stroke-width="2.0" />
<line x1="1437.9" y1="516.7" x2="1449.3" y2="516.7" stroke="#0d0d0d" stroke-width="2.0" />
<line x1="1437.9" y1="565.8" x2="1449.3" y2="565.8" stroke="#0d0d0d" stroke-width="2.0" />
<line x1="1519.1" y1="502.2" x2="1519.1" y2="542.8" stroke="#0d0d0d" stroke-width="2.0" />
<line x1="1513.4" y1="502.2" x2="1524.8" y2="502.2" stroke="#0d0d0d" stroke-width="2.0" />
<line x1="1513.4" y1="542.8" x2="1524.8" y2="542.8" stroke="#0d0d0d" stroke-width="2.0" />
<line x1="1594.5" y1="500.8" x2="1594.5" y2="549.7" stroke="#0d0d0d" stroke-width="2.0" />
<line x1="1588.8" y1="500.8" x2="1600.2" y2="500.8" stroke="#0d0d0d" stroke-width="2.0" />
<line x1="1588.8" y1="549.7" x2="1600.2" y2="549.7" stroke="#0d0d0d" stroke-width="2.0" />
<line x1="1669.9" y1="510.1" x2="1669.9" y2="535.2" stroke="#0d0d0d" stroke-width="2.0" />
<line x1="1664.2" y1="510.1" x2="1675.6" y2="510.1" stroke="#0d0d0d" stroke-width="2.0" />
<line x1="1664.2" y1="535.2" x2="1675.6" y2="535.2" stroke="#0d0d0d" stroke-width="2.0" />
<circle cx="1292.8" cy="567.1" r="5.8" fill="#0d0d0d"/>
<circle cx="1368.2" cy="607.3" r="5.8" fill="#0d0d0d"/>
<circle cx="1443.6" cy="543.1" r="5.8" fill="#0d0d0d"/>
<circle cx="1519.1" cy="525.4" r="5.8" fill="#0d0d0d"/>
<circle cx="1594.5" cy="528.0" r="5.8" fill="#0d0d0d"/>
<circle cx="1669.9" cy="525.4" r="5.8" fill="#0d0d0d"/>
<text font-size="44" font-weight="bold" transform="translate(1149.2 262.5) scale(1 1)">d</text>
<line x1="1440.2" y1="385.7" x2="1669.1" y2="385.7" stroke="#0a0a0a" stroke-width="2" />
<text font-size="29" text-anchor="middle" transform="translate(1554.5 376.2) scale(1.0 1)">n.s.</text>
<rect x="116.7" y="858.2" width="58.0" height="283.0" fill="#f2f2f2"/>
<rect x="179.7" y="858.2" width="70.8" height="283.0" fill="#f2edf6"/>
<rect x="255.8" y="858.2" width="285.7" height="283.0" fill="#c7e3e9"/>
<polyline points="139.1,990.2 214.5,1109.0 289.8,1001.4 365.2,994.4 440.5,983.8 515.9,973.2" fill="none" stroke="#e0ab9e" stroke-width="1.3" stroke-dasharray="4.5 2.8" opacity="0.62"/>
<polyline points="139.1,990.2 214.5,1110.0 289.8,996.1 365.2,997.9 440.5,990.8 515.9,992.6" fill="none" stroke="#e0ab9e" stroke-width="1.3" stroke-dasharray="4.5 2.8" opacity="0.62"/>
<polyline points="139.1,990.2 214.5,1108.0 289.8,1019.0 365.2,1003.2 440.5,996.1 515.9,999.6" fill="none" stroke="#e0ab9e" stroke-width="1.3" stroke-dasharray="4.5 2.8" opacity="0.62"/>
<polyline points="139.1,990.2 214.5,1111.0 289.8,1027.8 365.2,1013.7 440.5,1024.3 515.9,1026.1" fill="none" stroke="#e0ab9e" stroke-width="1.3" stroke-dasharray="4.5 2.8" opacity="0.62"/>
<polyline points="139.1,990.2 214.5,1109.0 289.8,1034.9 365.2,1036.6 440.5,1061.3 515.9,1041.9" fill="none" stroke="#e0ab9e" stroke-width="1.3" stroke-dasharray="4.5 2.8" opacity="0.62"/>
<polyline points="139.1,990.2 214.5,1107.0 289.8,1066.5 365.2,1045.4 440.5,1024.3 515.9,1027.8" fill="none" stroke="#e0ab9e" stroke-width="1.3" stroke-dasharray="4.5 2.8" opacity="0.62"/>
<polyline points="139.1,990.2 214.5,1110.0 289.8,1075.4 365.2,1066.5 440.5,1027.8 515.9,1047.2" fill="none" stroke="#e0ab9e" stroke-width="1.3" stroke-dasharray="4.5 2.8" opacity="0.62"/>
<polyline points="139.1,990.2 214.5,1109.0 289.8,1084.2 365.2,1071.8 440.5,1026.1 515.9,1036.6" fill="none" stroke="#e0ab9e" stroke-width="1.3" stroke-dasharray="4.5 2.8" opacity="0.62"/>
<polyline points="139.1,990.2 214.5,1133.0 289.8,1103.5 365.2,1087.7 440.5,1031.3 515.9,1024.3" fill="none" stroke="#e0ab9e" stroke-width="1.3" stroke-dasharray="4.5 2.8" opacity="0.62"/>
<polyline points="139.1,990.2 214.5,1109.0 289.8,1052.5 365.2,1026.1 440.5,1008.5 515.9,1004.9" fill="none" stroke="#e0ab9e" stroke-width="1.3" stroke-dasharray="4.5 2.8" opacity="0.62"/>
<polyline points="139.1,990.2 214.5,1100.0 289.8,879.0 365.2,932.7 440.5,994.4 515.9,1052.5" fill="none" stroke="#8a9db8" stroke-width="1.3" stroke-dasharray="4.5 2.8" opacity="0.62"/>
<polyline points="139.1,990.2 214.5,1098.0 289.8,910.7 365.2,876.4 440.5,908.1 515.9,941.5" fill="none" stroke="#8a9db8" stroke-width="1.3" stroke-dasharray="4.5 2.8" opacity="0.62"/>
<polyline points="139.1,990.2 214.5,1101.0 289.8,918.7 365.2,887.9 440.5,909.9 515.9,946.0" fill="none" stroke="#8a9db8" stroke-width="1.3" stroke-dasharray="4.5 2.8" opacity="0.62"/>
<polyline points="139.1,990.2 214.5,1103.0 289.8,973.2 365.2,918.7 440.5,894.0 515.9,938.0" fill="none" stroke="#8a9db8" stroke-width="1.3" stroke-dasharray="4.5 2.8" opacity="0.62"/>
<polyline points="139.1,990.2 214.5,1099.0 289.8,971.5 365.2,945.1 440.5,926.6 515.9,946.0" fill="none" stroke="#8a9db8" stroke-width="1.3" stroke-dasharray="4.5 2.8" opacity="0.62"/>
<polyline points="139.1,990.2 214.5,1102.0 289.8,973.2 365.2,959.2 440.5,950.4 515.9,945.1" fill="none" stroke="#8a9db8" stroke-width="1.3" stroke-dasharray="4.5 2.8" opacity="0.62"/>
<polyline points="139.1,990.2 214.5,1085.0 289.8,969.7 365.2,978.5 440.5,999.6 515.9,1026.1" fill="none" stroke="#8a9db8" stroke-width="1.3" stroke-dasharray="4.5 2.8" opacity="0.62"/>
<polyline points="139.1,990.2 214.5,1131.5 289.8,1022.5 365.2,959.2 440.5,953.9 515.9,948.6" fill="none" stroke="#8a9db8" stroke-width="1.3" stroke-dasharray="4.5 2.8" opacity="0.62"/>
<polyline points="139.1,990.2 214.5,1104.0 289.8,1026.1 365.2,987.3 440.5,959.2 515.9,1050.7" fill="none" stroke="#8a9db8" stroke-width="1.3" stroke-dasharray="4.5 2.8" opacity="0.62"/>
<polyline points="139.1,990.2 214.5,1096.0 289.8,1057.7 365.2,1004.9 440.5,948.6 515.9,987.3" fill="none" stroke="#8a9db8" stroke-width="1.3" stroke-dasharray="4.5 2.8" opacity="0.62"/>
<line x1="113.5" y1="989.7" x2="541.5" y2="989.7" stroke="#36424e" stroke-width="1.7" stroke-dasharray="3.3 4.1"/>
<polyline points="113.5,857.7 113.5,1144.4 541.5,1144.4" fill="none" stroke="#0a0a0a" stroke-width="3" stroke-linejoin="round"/>
<line x1="101.0" y1="860.0" x2="113.5" y2="860.0" stroke="#0a0a0a" stroke-width="2.7" />
<text font-size="31.6" text-anchor="end" transform="translate(95.2 871.3) scale(0.917 1)">2</text>
<line x1="101.0" y1="989.4" x2="113.5" y2="989.4" stroke="#0a0a0a" stroke-width="2.7" />
<text font-size="31.6" text-anchor="end" transform="translate(95.2 1000.7) scale(0.917 1)">1</text>
<line x1="101.0" y1="1117.8" x2="113.5" y2="1117.8" stroke="#0a0a0a" stroke-width="2.7" />
<text font-size="31.6" text-anchor="end" transform="translate(95.2 1129.1) scale(0.917 1)">0</text>
<line x1="139.1" y1="1144.4" x2="139.1" y2="1156.9" stroke="#0a0a0a" stroke-width="2.7" />
<line x1="214.5" y1="1144.4" x2="214.5" y2="1156.9" stroke="#0a0a0a" stroke-width="2.7" />
<line x1="289.8" y1="1144.4" x2="289.8" y2="1156.9" stroke="#0a0a0a" stroke-width="2.7" />
<line x1="365.2" y1="1144.4" x2="365.2" y2="1156.9" stroke="#0a0a0a" stroke-width="2.7" />
<line x1="440.5" y1="1144.4" x2="440.5" y2="1156.9" stroke="#0a0a0a" stroke-width="2.7" />
<line x1="515.9" y1="1144.4" x2="515.9" y2="1156.9" stroke="#0a0a0a" stroke-width="2.7" />
<text font-size="31.6" text-anchor="middle" transform="translate(294.7 1190.1) scale(0.917 1)">15</text>
<text font-size="31.6" text-anchor="middle" transform="translate(371.3 1190.1) scale(0.917 1)">30</text>
<text font-size="31.6" text-anchor="middle" transform="translate(448.7 1190.1) scale(0.917 1)">45</text>
<text font-size="31.6" text-anchor="middle" transform="translate(518.5 1190.1) scale(0.917 1)">60</text>
<text font-size="31.6" text-anchor="middle" transform="translate(408.2 1226.7) scale(0.917 1)">Emergence (min)</text>
<text font-size="31.1" text-anchor="end" transform="translate(154.4 1177.8) scale(0.917 1) rotate(-26.6)">Awake</text>
<text font-size="31.1" text-anchor="end" transform="translate(244.3 1180.6) scale(0.917 1) rotate(-26.6)">Isoflurane</text>
<text font-size="28.5" text-anchor="middle" transform="translate(57.5 990.2) scale(1.07 1) rotate(-90)">Max. amplify (ratio)</text>
<polyline points="139.1,990.2 214.5,1109.1 289.8,1048.9 365.2,1033.0 440.5,1018.0 515.9,1011.9" fill="none" stroke="#ea302a" stroke-width="1.6" />
<line x1="289.8" y1="1035.9" x2="289.8" y2="1061.5" stroke="#ea302a" stroke-width="1.6" />
<line x1="284.1" y1="1035.9" x2="295.5" y2="1035.9" stroke="#ea302a" stroke-width="1.6" />
<line x1="284.1" y1="1061.5" x2="295.5" y2="1061.5" stroke="#ea302a" stroke-width="1.6" />
<line x1="365.2" y1="1022.7" x2="365.2" y2="1042.5" stroke="#ea302a" stroke-width="1.6" />
<line x1="359.5" y1="1022.7" x2="370.9" y2="1022.7" stroke="#ea302a" stroke-width="1.6" />
<line x1="359.5" y1="1042.5" x2="370.9" y2="1042.5" stroke="#ea302a" stroke-width="1.6" />
<line x1="440.5" y1="1009.2" x2="440.5" y2="1025.9" stroke="#ea302a" stroke-width="1.6" />
<line x1="434.8" y1="1009.2" x2="446.2" y2="1009.2" stroke="#ea302a" stroke-width="1.6" />
<line x1="434.8" y1="1025.9" x2="446.2" y2="1025.9" stroke="#ea302a" stroke-width="1.6" />
<line x1="515.9" y1="1002.6" x2="515.9" y2="1020.6" stroke="#ea302a" stroke-width="1.6" />
<line x1="510.2" y1="1002.6" x2="521.6" y2="1002.6" stroke="#ea302a" stroke-width="1.6" />
<line x1="510.2" y1="1020.6" x2="521.6" y2="1020.6" stroke="#ea302a" stroke-width="1.6" />
<circle cx="139.1" cy="990.2" r="5.8" fill="#ea302a"/>
<circle cx="214.5" cy="1109.1" r="5.8" fill="#ea302a"/>
<circle cx="289.8" cy="1048.9" r="5.8" fill="#ea302a"/>
<circle cx="365.2" cy="1033.0" r="5.8" fill="#ea302a"/>
<circle cx="440.5" cy="1018.0" r="5.8" fill="#ea302a"/>
<circle cx="515.9" cy="1011.9" r="5.8" fill="#ea302a"/>
<polyline points="139.1,990.2 214.5,1101.1 289.8,978.4 365.2,951.2 440.5,950.1 515.9,971.0" fill="none" stroke="#2b3e92" stroke-width="1.6" />
<line x1="289.8" y1="959.1" x2="289.8" y2="998.7" stroke="#2b3e92" stroke-width="1.6" />
<line x1="284.1" y1="959.1" x2="295.5" y2="959.1" stroke="#2b3e92" stroke-width="1.6" />
<line x1="284.1" y1="998.7" x2="295.5" y2="998.7" stroke="#2b3e92" stroke-width="1.6" />
<line x1="365.2" y1="936.6" x2="365.2" y2="965.7" stroke="#2b3e92" stroke-width="1.6" />
<line x1="359.5" y1="936.6" x2="370.9" y2="936.6" stroke="#2b3e92" stroke-width="1.6" />
<line x1="359.5" y1="965.7" x2="370.9" y2="965.7" stroke="#2b3e92" stroke-width="1.6" />
<line x1="440.5" y1="939.3" x2="440.5" y2="959.3" stroke="#2b3e92" stroke-width="1.6" />
<line x1="434.8" y1="939.3" x2="446.2" y2="939.3" stroke="#2b3e92" stroke-width="1.6" />
<line x1="434.8" y1="959.3" x2="446.2" y2="959.3" stroke="#2b3e92" stroke-width="1.6" />
<line x1="515.9" y1="958.5" x2="515.9" y2="982.8" stroke="#2b3e92" stroke-width="1.6" />
<line x1="510.2" y1="958.5" x2="521.6" y2="958.5" stroke="#2b3e92" stroke-width="1.6" />
<line x1="510.2" y1="982.8" x2="521.6" y2="982.8" stroke="#2b3e92" stroke-width="1.6" />
<circle cx="139.1" cy="990.2" r="5.8" fill="#2b3e92"/>
<circle cx="214.5" cy="1101.1" r="5.8" fill="#2b3e92"/>
<circle cx="289.8" cy="978.4" r="5.8" fill="#2b3e92"/>
<circle cx="365.2" cy="951.2" r="5.8" fill="#2b3e92"/>
<circle cx="440.5" cy="950.1" r="5.8" fill="#2b3e92"/>
<circle cx="515.9" cy="971.0" r="5.8" fill="#2b3e92"/>
<text font-size="44" font-weight="bold" transform="translate(-0.8 808.2) scale(1 1)">e</text>
<text font-size="42" text-anchor="middle" transform="translate(293.2 893.0) scale(1 1)" letter-spacing="1.3" stroke="#0a0a0a" stroke-width="0.6">****</text>
<text font-size="42" text-anchor="middle" transform="translate(368.0 877.7) scale(1 1)" letter-spacing="1.3" stroke="#0a0a0a" stroke-width="0.6">****</text>
<text font-size="42" text-anchor="middle" transform="translate(442.0 894.3) scale(1 1)" letter-spacing="1.3" stroke="#0a0a0a" stroke-width="0.6">****</text>
<text font-size="42" text-anchor="middle" transform="translate(516.8 913.3) scale(1 1)" letter-spacing="1.3" stroke="#0a0a0a" stroke-width="0.6">*</text>
<line x1="115.5" y1="791.3" x2="147.5" y2="791.3" stroke="#2b3e92" stroke-width="1.8" />
<circle cx="132.0" cy="791.3" r="5.9" fill="#2b3e92"/>
<line x1="115.5" y1="819.5" x2="147.5" y2="819.5" stroke="#ea302a" stroke-width="1.8" />
<circle cx="132.0" cy="819.5" r="5.9" fill="#ea302a"/>
<text font-size="29" transform="translate(163.5 795.2) scale(1.0 1)">Before ablation</text>
<text font-size="29" transform="translate(163.5 831.3) scale(1.0 1)">After ablation</text>
<rect x="693.3" y="857.2" width="59.3" height="284.7" fill="#f2f2f2"/>
<rect x="758.4" y="857.2" width="70.3" height="284.7" fill="#f2edf6"/>
<rect x="834.5" y="857.2" width="285.2" height="284.7" fill="#c7e3e9"/>
<polyline points="717.8,1030.4 793.0,1114.0 868.3,1040.1 943.5,1026.1 1018.8,973.2 1094.0,919.5" fill="none" stroke="#e0ab9e" stroke-width="1.3" stroke-dasharray="4.5 2.8" opacity="0.62"/>
<polyline points="717.8,1030.4 793.0,1115.0 868.3,1047.2 943.5,1048.9 1018.8,1066.5 1094.0,1084.2" fill="none" stroke="#e0ab9e" stroke-width="1.3" stroke-dasharray="4.5 2.8" opacity="0.62"/>
<polyline points="717.8,1030.4 793.0,1114.0 868.3,1110.6 943.5,1103.5 1018.8,1034.9 1094.0,1026.1" fill="none" stroke="#e0ab9e" stroke-width="1.3" stroke-dasharray="4.5 2.8" opacity="0.62"/>
<polyline points="717.8,1030.4 793.0,1115.0 868.3,1115.8 943.5,1110.6 1018.8,1052.5 1094.0,1029.6" fill="none" stroke="#e0ab9e" stroke-width="1.3" stroke-dasharray="4.5 2.8" opacity="0.62"/>
<polyline points="717.8,1030.4 793.0,1113.0 868.3,1078.9 943.5,1052.5 1018.8,1008.5 1094.0,1004.9" fill="none" stroke="#e0ab9e" stroke-width="1.3" stroke-dasharray="4.5 2.8" opacity="0.62"/>
<polyline points="717.8,1030.4 793.0,1115.0 868.3,1061.3 943.5,1027.8 1018.8,1006.7 1094.0,1001.4" fill="none" stroke="#e0ab9e" stroke-width="1.3" stroke-dasharray="4.5 2.8" opacity="0.62"/>
<polyline points="717.8,1030.4 793.0,1114.0 868.3,1087.7 943.5,1057.7 1018.8,1026.1 1094.0,1019.0" fill="none" stroke="#e0ab9e" stroke-width="1.3" stroke-dasharray="4.5 2.8" opacity="0.62"/>
<polyline points="717.8,1030.4 793.0,1115.0 868.3,1052.5 943.5,1043.7 1018.8,1054.2 1094.0,1034.9" fill="none" stroke="#e0ab9e" stroke-width="1.3" stroke-dasharray="4.5 2.8" opacity="0.62"/>
<polyline points="717.8,1030.4 793.0,1096.0 868.3,944.2 943.5,941.5 1018.8,1008.5 1094.0,990.8" fill="none" stroke="#8a9db8" stroke-width="1.3" stroke-dasharray="4.5 2.8" opacity="0.62"/>
<polyline points="717.8,1030.4 793.0,1111.0 868.3,967.1 943.5,990.8 1018.8,1004.9 1094.0,994.4" fill="none" stroke="#8a9db8" stroke-width="1.3" stroke-dasharray="4.5 2.8" opacity="0.62"/>
<polyline points="717.8,1030.4 793.0,1112.0 868.3,1026.1 943.5,938.0 1018.8,1001.4 1094.0,1071.8" fill="none" stroke="#8a9db8" stroke-width="1.3" stroke-dasharray="4.5 2.8" opacity="0.62"/>
<polyline points="717.8,1030.4 793.0,1110.0 868.3,1034.9 943.5,959.2 1018.8,924.8 1094.0,987.3" fill="none" stroke="#8a9db8" stroke-width="1.3" stroke-dasharray="4.5 2.8" opacity="0.62"/>
<polyline points="717.8,1030.4 793.0,1112.0 868.3,1052.5 943.5,1008.5 1018.8,948.6 1094.0,881.7" fill="none" stroke="#8a9db8" stroke-width="1.3" stroke-dasharray="4.5 2.8" opacity="0.62"/>
<polyline points="717.8,1030.4 793.0,1111.0 868.3,1001.4 943.5,983.8 1018.8,985.6 1094.0,990.8" fill="none" stroke="#8a9db8" stroke-width="1.3" stroke-dasharray="4.5 2.8" opacity="0.62"/>
<polyline points="717.8,1030.4 793.0,1110.0 868.3,1003.2 943.5,1004.9 1018.8,999.6 1094.0,996.1" fill="none" stroke="#8a9db8" stroke-width="1.3" stroke-dasharray="4.5 2.8" opacity="0.62"/>
<polyline points="717.8,1030.4 793.0,1112.0 868.3,1043.7 943.5,962.7 1018.8,1019.0 1094.0,1052.5" fill="none" stroke="#8a9db8" stroke-width="1.3" stroke-dasharray="4.5 2.8" opacity="0.62"/>
<polyline points="717.8,1030.4 793.0,1111.0 868.3,1070.1 943.5,1061.3 1018.8,1008.5 1094.0,1008.5" fill="none" stroke="#8a9db8" stroke-width="1.3" stroke-dasharray="4.5 2.8" opacity="0.62"/>
<polyline points="717.8,1030.4 793.0,1110.0 868.3,1078.9 943.5,1063.0 1018.8,1026.1 1094.0,1048.9" fill="none" stroke="#8a9db8" stroke-width="1.3" stroke-dasharray="4.5 2.8" opacity="0.62"/>
<line x1="690.8" y1="1030.6" x2="1119.7" y2="1030.6" stroke="#36424e" stroke-width="1.7" stroke-dasharray="3.3 4.1"/>
<polyline points="690.8,856.7 690.8,1144.4 1119.7,1144.4" fill="none" stroke="#0a0a0a" stroke-width="3" stroke-linejoin="round"/>
<line x1="678.3" y1="858.7" x2="690.8" y2="858.7" stroke="#0a0a0a" stroke-width="2.7" />
<text font-size="31.6" text-anchor="end" transform="translate(672.8 870.0) scale(0.917 1)">3</text>
<line x1="678.3" y1="944.6" x2="690.8" y2="944.6" stroke="#0a0a0a" stroke-width="2.7" />
<text font-size="31.6" text-anchor="end" transform="translate(672.8 955.9) scale(0.917 1)">2</text>
<line x1="678.3" y1="1030.4" x2="690.8" y2="1030.4" stroke="#0a0a0a" stroke-width="2.7" />
<text font-size="31.6" text-anchor="end" transform="translate(672.8 1041.7) scale(0.917 1)">1</text>
<line x1="678.3" y1="1115.7" x2="690.8" y2="1115.7" stroke="#0a0a0a" stroke-width="2.7" />
<text font-size="31.6" text-anchor="end" transform="translate(672.8 1127.0) scale(0.917 1)">0</text>
<line x1="717.8" y1="1144.4" x2="717.8" y2="1156.9" stroke="#0a0a0a" stroke-width="2.7" />
<line x1="793.0" y1="1144.4" x2="793.0" y2="1156.9" stroke="#0a0a0a" stroke-width="2.7" />
<line x1="868.3" y1="1144.4" x2="868.3" y2="1156.9" stroke="#0a0a0a" stroke-width="2.7" />
<line x1="943.5" y1="1144.4" x2="943.5" y2="1156.9" stroke="#0a0a0a" stroke-width="2.7" />
<line x1="1018.8" y1="1144.4" x2="1018.8" y2="1156.9" stroke="#0a0a0a" stroke-width="2.7" />
<line x1="1094.0" y1="1144.4" x2="1094.0" y2="1156.9" stroke="#0a0a0a" stroke-width="2.7" />
<text font-size="31.6" text-anchor="middle" transform="translate(869.0 1190.1) scale(0.917 1)">15</text>
<text font-size="31.6" text-anchor="middle" transform="translate(946.2 1190.1) scale(0.917 1)">30</text>
<text font-size="31.6" text-anchor="middle" transform="translate(1023.4 1190.1) scale(0.917 1)">45</text>
<text font-size="31.6" text-anchor="middle" transform="translate(1093.8 1190.1) scale(0.917 1)">60</text>
<text font-size="31.6" text-anchor="middle" transform="translate(983.6 1226.7) scale(0.917 1)">Emergence (min)</text>
<text font-size="31.1" text-anchor="end" transform="translate(728.9 1177.8) scale(0.917 1) rotate(-26.6)">Awake</text>
<text font-size="31.1" text-anchor="end" transform="translate(819.3 1180.6) scale(0.917 1) rotate(-26.6)">Isoflurane</text>
<text font-size="28" text-anchor="middle" transform="translate(636.4 992.1) scale(1.07 1) rotate(-90)">Time active (ratio)</text>
<polyline points="717.8,1030.4 793.0,1114.9 868.3,1073.4 943.5,1045.2 1018.8,1028.0 1094.0,1016.6" fill="none" stroke="#ea302a" stroke-width="1.6" />
<line x1="868.3" y1="1065.5" x2="868.3" y2="1081.3" stroke="#ea302a" stroke-width="1.6" />
<line x1="862.6" y1="1065.5" x2="874.0" y2="1065.5" stroke="#ea302a" stroke-width="1.6" />
<line x1="862.6" y1="1081.3" x2="874.0" y2="1081.3" stroke="#ea302a" stroke-width="1.6" />
<line x1="943.5" y1="1037.8" x2="943.5" y2="1052.8" stroke="#ea302a" stroke-width="1.6" />
<line x1="937.8" y1="1037.8" x2="949.2" y2="1037.8" stroke="#ea302a" stroke-width="1.6" />
<line x1="937.8" y1="1052.8" x2="949.2" y2="1052.8" stroke="#ea302a" stroke-width="1.6" />
<line x1="1018.8" y1="1019.8" x2="1018.8" y2="1037.0" stroke="#ea302a" stroke-width="1.6" />
<line x1="1013.1" y1="1019.8" x2="1024.5" y2="1019.8" stroke="#ea302a" stroke-width="1.6" />
<line x1="1013.1" y1="1037.0" x2="1024.5" y2="1037.0" stroke="#ea302a" stroke-width="1.6" />
<line x1="1094.0" y1="1003.4" x2="1094.0" y2="1029.8" stroke="#ea302a" stroke-width="1.6" />
<line x1="1088.3" y1="1003.4" x2="1099.7" y2="1003.4" stroke="#ea302a" stroke-width="1.6" />
<line x1="1088.3" y1="1029.8" x2="1099.7" y2="1029.8" stroke="#ea302a" stroke-width="1.6" />
<circle cx="717.8" cy="1030.4" r="5.8" fill="#ea302a"/>
<circle cx="793.0" cy="1114.9" r="5.8" fill="#ea302a"/>
<circle cx="868.3" cy="1073.4" r="5.8" fill="#ea302a"/>
<circle cx="943.5" cy="1045.2" r="5.8" fill="#ea302a"/>
<circle cx="1018.8" cy="1028.0" r="5.8" fill="#ea302a"/>
<circle cx="1094.0" cy="1016.6" r="5.8" fill="#ea302a"/>
<polyline points="717.8,1030.4 793.0,1111.2 868.3,1027.2 943.5,990.2 1018.8,991.6 1094.0,1001.3" fill="none" stroke="#2b3e92" stroke-width="1.6" />
<line x1="868.3" y1="1011.9" x2="868.3" y2="1041.7" stroke="#2b3e92" stroke-width="1.6" />
<line x1="862.6" y1="1011.9" x2="874.0" y2="1011.9" stroke="#2b3e92" stroke-width="1.6" />
<line x1="862.6" y1="1041.7" x2="874.0" y2="1041.7" stroke="#2b3e92" stroke-width="1.6" />
<line x1="943.5" y1="976.5" x2="943.5" y2="1004.0" stroke="#2b3e92" stroke-width="1.6" />
<line x1="937.8" y1="976.5" x2="949.2" y2="976.5" stroke="#2b3e92" stroke-width="1.6" />
<line x1="937.8" y1="1004.0" x2="949.2" y2="1004.0" stroke="#2b3e92" stroke-width="1.6" />
<line x1="1018.8" y1="981.5" x2="1018.8" y2="1002.1" stroke="#2b3e92" stroke-width="1.6" />
<line x1="1013.1" y1="981.5" x2="1024.5" y2="981.5" stroke="#2b3e92" stroke-width="1.6" />
<line x1="1013.1" y1="1002.1" x2="1024.5" y2="1002.1" stroke="#2b3e92" stroke-width="1.6" />
<line x1="1094.0" y1="984.4" x2="1094.0" y2="1018.0" stroke="#2b3e92" stroke-width="1.6" />
<line x1="1088.3" y1="984.4" x2="1099.7" y2="984.4" stroke="#2b3e92" stroke-width="1.6" />
<line x1="1088.3" y1="1018.0" x2="1099.7" y2="1018.0" stroke="#2b3e92" stroke-width="1.6" />
<circle cx="717.8" cy="1030.4" r="5.8" fill="#2b3e92"/>
<circle cx="793.0" cy="1111.2" r="5.8" fill="#2b3e92"/>
<circle cx="868.3" cy="1027.2" r="5.8" fill="#2b3e92"/>
<circle cx="943.5" cy="990.2" r="5.8" fill="#2b3e92"/>
<circle cx="1018.8" cy="991.6" r="5.8" fill="#2b3e92"/>
<circle cx="1094.0" cy="1001.3" r="5.8" fill="#2b3e92"/>
<text font-size="44" font-weight="bold" transform="translate(591.0 808.2) scale(1 1)">f</text>
<text font-size="42" text-anchor="middle" transform="translate(868.0 941.6) scale(1 1)" letter-spacing="1.3" stroke="#0a0a0a" stroke-width="0.6">**</text>
<text font-size="42" text-anchor="middle" transform="translate(941.8 921.8) scale(1 1)" letter-spacing="1.3" stroke="#0a0a0a" stroke-width="0.6">***</text>
<rect x="1272.9" y="856.2" width="56.9" height="284.2" fill="#f2f2f2"/>
<rect x="1335.1" y="856.2" width="70.7" height="284.2" fill="#f2edf6"/>
<rect x="1411.1" y="856.2" width="285.2" height="284.2" fill="#c7e3e9"/>
<polyline points="1294.4,1056.8 1369.9,1122.0 1445.3,1047.2 1520.8,1043.7 1596.2,1033.1 1671.7,962.7" fill="none" stroke="#e0ab9e" stroke-width="1.3" stroke-dasharray="4.5 2.8" opacity="0.62"/>
<polyline points="1294.4,1056.8 1369.9,1122.0 1445.3,1052.5 1520.8,1048.9 1596.2,1027.8 1671.7,1026.1" fill="none" stroke="#e0ab9e" stroke-width="1.3" stroke-dasharray="4.5 2.8" opacity="0.62"/>
<polyline points="1294.4,1056.8 1369.9,1123.0 1445.3,1078.9 1520.8,1071.8 1596.2,1075.4 1671.7,1064.8" fill="none" stroke="#e0ab9e" stroke-width="1.3" stroke-dasharray="4.5 2.8" opacity="0.62"/>
<polyline points="1294.4,1056.8 1369.9,1123.0 1445.3,1114.1 1520.8,1117.6 1596.2,1026.1 1671.7,1034.9" fill="none" stroke="#e0ab9e" stroke-width="1.3" stroke-dasharray="4.5 2.8" opacity="0.62"/>
<polyline points="1294.4,1056.8 1369.9,1123.0 1445.3,1096.5 1520.8,1078.9 1596.2,1084.2 1671.7,1084.2" fill="none" stroke="#e0ab9e" stroke-width="1.3" stroke-dasharray="4.5 2.8" opacity="0.62"/>
<polyline points="1294.4,1056.8 1369.9,1123.0 1445.3,1103.5 1520.8,1085.9 1596.2,1070.1 1671.7,1087.7" fill="none" stroke="#e0ab9e" stroke-width="1.3" stroke-dasharray="4.5 2.8" opacity="0.62"/>
<polyline points="1294.4,1056.8 1369.9,1122.0 1445.3,1063.0 1520.8,1061.3 1596.2,1043.7 1671.7,1040.1" fill="none" stroke="#e0ab9e" stroke-width="1.3" stroke-dasharray="4.5 2.8" opacity="0.62"/>
<polyline points="1294.4,1056.8 1369.9,1123.0 1445.3,1110.6 1520.8,1100.0 1596.2,1059.5 1671.7,1050.7" fill="none" stroke="#e0ab9e" stroke-width="1.3" stroke-dasharray="4.5 2.8" opacity="0.62"/>
<polyline points="1294.4,1056.8 1369.9,1119.0 1445.3,990.8 1520.8,891.4 1596.2,860.6 1671.7,1024.3" fill="none" stroke="#8a9db8" stroke-width="1.3" stroke-dasharray="4.5 2.8" opacity="0.62"/>
<polyline points="1294.4,1056.8 1369.9,1120.0 1445.3,999.6 1520.8,915.1 1596.2,987.3 1671.7,964.4" fill="none" stroke="#8a9db8" stroke-width="1.3" stroke-dasharray="4.5 2.8" opacity="0.62"/>
<polyline points="1294.4,1056.8 1369.9,1119.0 1445.3,1026.1 1520.8,923.9 1596.2,1027.8 1671.7,1093.0" fill="none" stroke="#8a9db8" stroke-width="1.3" stroke-dasharray="4.5 2.8" opacity="0.62"/>
<polyline points="1294.4,1056.8 1369.9,1120.0 1445.3,1008.5 1520.8,904.6 1596.2,990.8 1671.7,973.2" fill="none" stroke="#8a9db8" stroke-width="1.3" stroke-dasharray="4.5 2.8" opacity="0.62"/>
<polyline points="1294.4,1056.8 1369.9,1105.0 1445.3,999.6 1520.8,1006.7 1596.2,990.8 1671.7,983.8" fill="none" stroke="#8a9db8" stroke-width="1.3" stroke-dasharray="4.5 2.8" opacity="0.62"/>
<polyline points="1294.4,1056.8 1369.9,1120.0 1445.3,1026.1 1520.8,1022.5 1596.2,1008.5 1671.7,973.2" fill="none" stroke="#8a9db8" stroke-width="1.3" stroke-dasharray="4.5 2.8" opacity="0.62"/>
<polyline points="1294.4,1056.8 1369.9,1120.0 1445.3,1043.7 1520.8,1026.1 1596.2,1001.4 1671.7,962.7" fill="none" stroke="#8a9db8" stroke-width="1.3" stroke-dasharray="4.5 2.8" opacity="0.62"/>
<polyline points="1294.4,1056.8 1369.9,1121.0 1445.3,1070.1 1520.8,1033.1 1596.2,1047.2 1671.7,1078.9" fill="none" stroke="#8a9db8" stroke-width="1.3" stroke-dasharray="4.5 2.8" opacity="0.62"/>
<polyline points="1294.4,1056.8 1369.9,1121.0 1445.3,1085.0 1520.8,1061.3 1596.2,1010.2 1671.7,966.2" fill="none" stroke="#8a9db8" stroke-width="1.3" stroke-dasharray="4.5 2.8" opacity="0.62"/>
<polyline points="1294.4,1056.8 1369.9,1121.0 1445.3,1096.5 1520.8,1078.9 1596.2,1019.0 1671.7,975.0" fill="none" stroke="#8a9db8" stroke-width="1.3" stroke-dasharray="4.5 2.8" opacity="0.62"/>
<line x1="1270.4" y1="1057.0" x2="1696.3" y2="1057.0" stroke="#36424e" stroke-width="1.7" stroke-dasharray="3.3 4.1"/>
<polyline points="1270.4,855.7 1270.4,1142.9 1696.3,1142.9" fill="none" stroke="#0a0a0a" stroke-width="3" stroke-linejoin="round"/>
<line x1="1257.9" y1="857.7" x2="1270.4" y2="857.7" stroke="#0a0a0a" stroke-width="2.7" />
<text font-size="31.6" text-anchor="end" transform="translate(1248.1 869.0) scale(0.917 1)">4</text>
<line x1="1257.9" y1="923.7" x2="1270.4" y2="923.7" stroke="#0a0a0a" stroke-width="2.7" />
<text font-size="31.6" text-anchor="end" transform="translate(1248.1 935.0) scale(0.917 1)">3</text>
<line x1="1257.9" y1="990.2" x2="1270.4" y2="990.2" stroke="#0a0a0a" stroke-width="2.7" />
<text font-size="31.6" text-anchor="end" transform="translate(1248.1 1001.5) scale(0.917 1)">2</text>
<line x1="1257.9" y1="1056.8" x2="1270.4" y2="1056.8" stroke="#0a0a0a" stroke-width="2.7" />
<text font-size="31.6" text-anchor="end" transform="translate(1248.1 1068.1) scale(0.917 1)">1</text>
<line x1="1257.9" y1="1123.1" x2="1270.4" y2="1123.1" stroke="#0a0a0a" stroke-width="2.7" />
<text font-size="31.6" text-anchor="end" transform="translate(1248.1 1134.4) scale(0.917 1)">0</text>
<line x1="1294.4" y1="1142.9" x2="1294.4" y2="1155.4" stroke="#0a0a0a" stroke-width="2.7" />
<line x1="1369.9" y1="1142.9" x2="1369.9" y2="1155.4" stroke="#0a0a0a" stroke-width="2.7" />
<line x1="1445.3" y1="1142.9" x2="1445.3" y2="1155.4" stroke="#0a0a0a" stroke-width="2.7" />
<line x1="1520.8" y1="1142.9" x2="1520.8" y2="1155.4" stroke="#0a0a0a" stroke-width="2.7" />
<line x1="1596.2" y1="1142.9" x2="1596.2" y2="1155.4" stroke="#0a0a0a" stroke-width="2.7" />
<line x1="1671.7" y1="1142.9" x2="1671.7" y2="1155.4" stroke="#0a0a0a" stroke-width="2.7" />
<text font-size="31.6" text-anchor="middle" transform="translate(1447.4 1189.3) scale(0.917 1)">15</text>
<text font-size="31.6" text-anchor="middle" transform="translate(1524.4 1189.3) scale(0.917 1)">30</text>
<text font-size="31.6" text-anchor="middle" transform="translate(1601.5 1189.3) scale(0.917 1)">45</text>
<text font-size="31.6" text-anchor="middle" transform="translate(1671.6 1189.3) scale(0.917 1)">60</text>
<text font-size="31.6" text-anchor="middle" transform="translate(1561.3 1225.9) scale(0.917 1)">Emergence (min)</text>
<text font-size="31.1" text-anchor="end" transform="translate(1306.6 1176.3) scale(0.917 1) rotate(-26.6)">Awake</text>
<text font-size="31.1" text-anchor="end" transform="translate(1396.8 1179.1) scale(0.917 1) rotate(-26.6)">Isoflurane</text>
<text font-size="28" text-anchor="middle" transform="translate(1210.3 992.0) scale(1.07 1) rotate(-90)">Signal area (ratio)</text>
<polyline points="1294.4,1056.8 1369.9,1122.3 1445.3,1089.8 1520.8,1070.2 1596.2,1054.4 1671.7,1048.9" fill="none" stroke="#ea302a" stroke-width="1.6" />
<line x1="1445.3" y1="1080.8" x2="1445.3" y2="1098.5" stroke="#ea302a" stroke-width="1.6" />
<line x1="1439.6" y1="1080.8" x2="1451.0" y2="1080.8" stroke="#ea302a" stroke-width="1.6" />
<line x1="1439.6" y1="1098.5" x2="1451.0" y2="1098.5" stroke="#ea302a" stroke-width="1.6" />
<line x1="1520.8" y1="1062.9" x2="1520.8" y2="1077.4" stroke="#ea302a" stroke-width="1.6" />
<line x1="1515.1" y1="1062.9" x2="1526.5" y2="1062.9" stroke="#ea302a" stroke-width="1.6" />
<line x1="1515.1" y1="1077.4" x2="1526.5" y2="1077.4" stroke="#ea302a" stroke-width="1.6" />
<line x1="1596.2" y1="1046.2" x2="1596.2" y2="1062.1" stroke="#ea302a" stroke-width="1.6" />
<line x1="1590.5" y1="1046.2" x2="1601.9" y2="1046.2" stroke="#ea302a" stroke-width="1.6" />
<line x1="1590.5" y1="1062.1" x2="1601.9" y2="1062.1" stroke="#ea302a" stroke-width="1.6" />
<line x1="1671.7" y1="1037.0" x2="1671.7" y2="1061.0" stroke="#ea302a" stroke-width="1.6" />
<line x1="1666.0" y1="1037.0" x2="1677.4" y2="1037.0" stroke="#ea302a" stroke-width="1.6" />
<line x1="1666.0" y1="1061.0" x2="1677.4" y2="1061.0" stroke="#ea302a" stroke-width="1.6" />
<circle cx="1294.4" cy="1056.8" r="5.8" fill="#ea302a"/>
<circle cx="1369.9" cy="1122.3" r="5.8" fill="#ea302a"/>
<circle cx="1445.3" cy="1089.8" r="5.8" fill="#ea302a"/>
<circle cx="1520.8" cy="1070.2" r="5.8" fill="#ea302a"/>
<circle cx="1596.2" cy="1054.4" r="5.8" fill="#ea302a"/>
<circle cx="1671.7" cy="1048.9" r="5.8" fill="#ea302a"/>
<polyline points="1294.4,1056.8 1369.9,1120.9 1445.3,1047.0 1520.8,1000.0 1596.2,1000.0 1671.7,1001.3" fill="none" stroke="#2b3e92" stroke-width="1.6" />
<line x1="1445.3" y1="1033.8" x2="1445.3" y2="1059.4" stroke="#2b3e92" stroke-width="1.6" />
<line x1="1439.6" y1="1033.8" x2="1451.0" y2="1033.8" stroke="#2b3e92" stroke-width="1.6" />
<line x1="1439.6" y1="1059.4" x2="1451.0" y2="1059.4" stroke="#2b3e92" stroke-width="1.6" />
<line x1="1520.8" y1="977.8" x2="1520.8" y2="1021.4" stroke="#2b3e92" stroke-width="1.6" />
<line x1="1515.1" y1="977.8" x2="1526.5" y2="977.8" stroke="#2b3e92" stroke-width="1.6" />
<line x1="1515.1" y1="1021.4" x2="1526.5" y2="1021.4" stroke="#2b3e92" stroke-width="1.6" />
<line x1="1596.2" y1="981.8" x2="1596.2" y2="1017.2" stroke="#2b3e92" stroke-width="1.6" />
<line x1="1590.5" y1="981.8" x2="1601.9" y2="981.8" stroke="#2b3e92" stroke-width="1.6" />
<line x1="1590.5" y1="1017.2" x2="1601.9" y2="1017.2" stroke="#2b3e92" stroke-width="1.6" />
<line x1="1671.7" y1="973.6" x2="1671.7" y2="1028.0" stroke="#2b3e92" stroke-width="1.6" />
<line x1="1666.0" y1="973.6" x2="1677.4" y2="973.6" stroke="#2b3e92" stroke-width="1.6" />
<line x1="1666.0" y1="1028.0" x2="1677.4" y2="1028.0" stroke="#2b3e92" stroke-width="1.6" />
<circle cx="1294.4" cy="1056.8" r="5.8" fill="#2b3e92"/>
<circle cx="1369.9" cy="1120.9" r="5.8" fill="#2b3e92"/>
<circle cx="1445.3" cy="1047.0" r="5.8" fill="#2b3e92"/>
<circle cx="1520.8" cy="1000.0" r="5.8" fill="#2b3e92"/>
<circle cx="1596.2" cy="1000.0" r="5.8" fill="#2b3e92"/>
<circle cx="1671.7" cy="1001.3" r="5.8" fill="#2b3e92"/>
<text font-size="44" font-weight="bold" transform="translate(1149.2 808.2) scale(1 1)">g</text>
<text font-size="42" text-anchor="middle" transform="translate(1518.7 908.1) scale(1 1)" letter-spacing="1.3" stroke="#0a0a0a" stroke-width="0.6">**</text>
<text font-size="42" text-anchor="middle" transform="translate(1601.0 907.3) scale(1 1)" letter-spacing="1.3" stroke="#0a0a0a" stroke-width="0.6">*</text>
<rect x="114.7" y="1376.7" width="56.6" height="284.2" fill="#f2f2f2"/>
<rect x="176.6" y="1376.7" width="71.3" height="284.2" fill="#f2edf6"/>
<rect x="253.2" y="1376.7" width="285.7" height="284.2" fill="#c7e3e9"/>
<polyline points="137.8,1457.4 213.0,1676.6 288.2,1505.6 363.4,1482.7 438.6,1444.8 513.8,1442.2" fill="none" stroke="#e0ab9e" stroke-width="1.3" stroke-dasharray="4.5 2.8" opacity="0.62"/>
<polyline points="137.8,1491.7 213.0,1650.2 288.2,1505.6 363.4,1509.1 438.6,1510.8 513.8,1509.1" fill="none" stroke="#e0ab9e" stroke-width="1.3" stroke-dasharray="4.5 2.8" opacity="0.62"/>
<polyline points="137.8,1512.9 213.0,1652.8 288.2,1577.7 363.4,1577.7 438.6,1584.8 513.8,1598.9" fill="none" stroke="#e0ab9e" stroke-width="1.3" stroke-dasharray="4.5 2.8" opacity="0.62"/>
<polyline points="137.8,1534.0 213.0,1651.5 288.2,1597.1 363.4,1597.1 438.6,1605.9 513.8,1572.5" fill="none" stroke="#e0ab9e" stroke-width="1.3" stroke-dasharray="4.5 2.8" opacity="0.62"/>
<polyline points="137.8,1565.7 213.0,1650.2 288.2,1644.6 363.4,1623.5 438.6,1616.5 513.8,1581.3" fill="none" stroke="#e0ab9e" stroke-width="1.3" stroke-dasharray="4.5 2.8" opacity="0.62"/>
<polyline points="137.8,1581.5 213.0,1652.8 288.2,1658.7 363.4,1649.9 438.6,1597.1 513.8,1581.3" fill="none" stroke="#e0ab9e" stroke-width="1.3" stroke-dasharray="4.5 2.8" opacity="0.62"/>
<polyline points="137.8,1549.8 213.0,1648.9 288.2,1539.0 363.4,1519.6 438.6,1507.3 513.8,1523.2" fill="none" stroke="#e0ab9e" stroke-width="1.3" stroke-dasharray="4.5 2.8" opacity="0.62"/>
<polyline points="137.8,1586.8 213.0,1650.2 288.2,1554.9 363.4,1528.5 438.6,1517.9 513.8,1539.0" fill="none" stroke="#e0ab9e" stroke-width="1.3" stroke-dasharray="4.5 2.8" opacity="0.62"/>
<polyline points="137.8,1576.2 213.0,1651.5 288.2,1616.5 363.4,1607.7 438.6,1614.7 513.8,1583.0" fill="none" stroke="#e0ab9e" stroke-width="1.3" stroke-dasharray="4.5 2.8" opacity="0.62"/>
<polyline points="137.8,1594.7 213.0,1651.5 288.2,1604.2 363.4,1572.5 438.6,1546.1 513.8,1516.1" fill="none" stroke="#e0ab9e" stroke-width="1.3" stroke-dasharray="4.5 2.8" opacity="0.62"/>
<polyline points="137.8,1549.8 213.0,1642.3 288.2,1528.5 363.4,1482.7 438.6,1459.8 513.8,1456.3" fill="none" stroke="#8a9db8" stroke-width="1.3" stroke-dasharray="4.5 2.8" opacity="0.62"/>
<polyline points="137.8,1576.2 213.0,1642.3 288.2,1500.3 363.4,1510.8 438.6,1519.6 513.8,1556.6" fill="none" stroke="#8a9db8" stroke-width="1.3" stroke-dasharray="4.5 2.8" opacity="0.62"/>
<polyline points="137.8,1581.5 213.0,1639.6 288.2,1510.8 363.4,1496.8 438.6,1484.4 513.8,1554.9" fill="none" stroke="#8a9db8" stroke-width="1.3" stroke-dasharray="4.5 2.8" opacity="0.62"/>
<polyline points="137.8,1586.8 213.0,1643.6 288.2,1516.1 363.4,1547.8 438.6,1524.9 513.8,1523.2" fill="none" stroke="#8a9db8" stroke-width="1.3" stroke-dasharray="4.5 2.8" opacity="0.62"/>
<polyline points="137.8,1592.1 213.0,1668.7 288.2,1546.1 363.4,1528.5 438.6,1500.3 513.8,1494.1" fill="none" stroke="#8a9db8" stroke-width="1.3" stroke-dasharray="4.5 2.8" opacity="0.62"/>
<polyline points="137.8,1597.4 213.0,1644.9 288.2,1614.7 363.4,1574.2 438.6,1547.8 513.8,1602.4" fill="none" stroke="#8a9db8" stroke-width="1.3" stroke-dasharray="4.5 2.8" opacity="0.62"/>
<polyline points="137.8,1602.7 213.0,1643.6 288.2,1623.5 363.4,1595.4 438.6,1598.9 513.8,1586.5" fill="none" stroke="#8a9db8" stroke-width="1.3" stroke-dasharray="4.5 2.8" opacity="0.62"/>
<polyline points="137.8,1584.2 213.0,1640.9 288.2,1630.6 363.4,1598.9 438.6,1591.8 513.8,1598.9" fill="none" stroke="#8a9db8" stroke-width="1.3" stroke-dasharray="4.5 2.8" opacity="0.62"/>
<polyline points="137.8,1565.7 213.0,1644.9 288.2,1634.1 363.4,1604.2 438.6,1604.2 513.8,1637.6" fill="none" stroke="#8a9db8" stroke-width="1.3" stroke-dasharray="4.5 2.8" opacity="0.62"/>
<polyline points="137.8,1578.9 213.0,1642.3 288.2,1563.7 363.4,1542.5 438.6,1556.6 513.8,1607.7" fill="none" stroke="#8a9db8" stroke-width="1.3" stroke-dasharray="4.5 2.8" opacity="0.62"/>
<polyline points="112.2,1376.2 112.2,1663.4 538.9,1663.4" fill="none" stroke="#0a0a0a" stroke-width="3" stroke-linejoin="round"/>
<line x1="99.7" y1="1378.2" x2="112.2" y2="1378.2" stroke="#0a0a0a" stroke-width="2.7" />
<text font-size="31.6" text-anchor="end" transform="translate(93.9 1389.5) scale(0.917 1)">8</text>
<line x1="99.7" y1="1446.9" x2="112.2" y2="1446.9" stroke="#0a0a0a" stroke-width="2.7" />
<text font-size="31.6" text-anchor="end" transform="translate(93.9 1458.2) scale(0.917 1)">6</text>
<line x1="99.7" y1="1515.5" x2="112.2" y2="1515.5" stroke="#0a0a0a" stroke-width="2.7" />
<text font-size="31.6" text-anchor="end" transform="translate(93.9 1526.8) scale(0.917 1)">4</text>
<line x1="99.7" y1="1584.2" x2="112.2" y2="1584.2" stroke="#0a0a0a" stroke-width="2.7" />
<text font-size="31.6" text-anchor="end" transform="translate(93.9 1595.5) scale(0.917 1)">2</text>
<line x1="99.7" y1="1652.8" x2="112.2" y2="1652.8" stroke="#0a0a0a" stroke-width="2.7" />
<text font-size="31.6" text-anchor="end" transform="translate(93.9 1664.1) scale(0.917 1)">0</text>
<line x1="137.8" y1="1663.4" x2="137.8" y2="1675.9" stroke="#0a0a0a" stroke-width="2.7" />
<line x1="213.0" y1="1663.4" x2="213.0" y2="1675.9" stroke="#0a0a0a" stroke-width="2.7" />
<line x1="288.2" y1="1663.4" x2="288.2" y2="1675.9" stroke="#0a0a0a" stroke-width="2.7" />
<line x1="363.4" y1="1663.4" x2="363.4" y2="1675.9" stroke="#0a0a0a" stroke-width="2.7" />
<line x1="438.6" y1="1663.4" x2="438.6" y2="1675.9" stroke="#0a0a0a" stroke-width="2.7" />
<line x1="513.8" y1="1663.4" x2="513.8" y2="1675.9" stroke="#0a0a0a" stroke-width="2.7" />
<text font-size="31.6" text-anchor="middle" transform="translate(289.2 1709.4) scale(0.917 1)">15</text>
<text font-size="31.6" text-anchor="middle" transform="translate(366.3 1709.4) scale(0.917 1)">30</text>
<text font-size="31.6" text-anchor="middle" transform="translate(444.1 1709.4) scale(0.917 1)">45</text>
<text font-size="31.6" text-anchor="middle" transform="translate(513.8 1709.4) scale(0.917 1)">60</text>
<text font-size="31.6" text-anchor="middle" transform="translate(403.9 1746.7) scale(0.917 1)">Emergence (min)</text>
<text font-size="31.1" text-anchor="end" transform="translate(148.9 1696.8) scale(0.917 1) rotate(-26.6)">Awake</text>
<text font-size="31.1" text-anchor="end" transform="translate(239.3 1699.6) scale(0.917 1) rotate(-26.6)">Isoflurane</text>
<text font-size="27.4" text-anchor="middle" transform="translate(49.9 1512.5) scale(1.07 1) rotate(-90)">Max. amplitude ( ΔF/F)</text>
<polyline points="137.8,1509.7 213.0,1649.7 288.2,1574.9 363.4,1553.3 438.6,1538.0 513.8,1532.7" fill="none" stroke="#ea302a" stroke-width="1.6" />
<line x1="137.8" y1="1497.0" x2="137.8" y2="1522.1" stroke="#ea302a" stroke-width="1.6" />
<line x1="132.1" y1="1497.0" x2="143.5" y2="1497.0" stroke="#ea302a" stroke-width="1.6" />
<line x1="132.1" y1="1522.1" x2="143.5" y2="1522.1" stroke="#ea302a" stroke-width="1.6" />
<line x1="288.2" y1="1558.6" x2="288.2" y2="1590.8" stroke="#ea302a" stroke-width="1.6" />
<line x1="282.5" y1="1558.6" x2="293.9" y2="1558.6" stroke="#ea302a" stroke-width="1.6" />
<line x1="282.5" y1="1590.8" x2="293.9" y2="1590.8" stroke="#ea302a" stroke-width="1.6" />
<line x1="363.4" y1="1536.1" x2="363.4" y2="1569.6" stroke="#ea302a" stroke-width="1.6" />
<line x1="357.7" y1="1536.1" x2="369.1" y2="1536.1" stroke="#ea302a" stroke-width="1.6" />
<line x1="357.7" y1="1569.6" x2="369.1" y2="1569.6" stroke="#ea302a" stroke-width="1.6" />
<line x1="438.6" y1="1520.8" x2="438.6" y2="1554.6" stroke="#ea302a" stroke-width="1.6" />
<line x1="432.9" y1="1520.8" x2="444.3" y2="1520.8" stroke="#ea302a" stroke-width="1.6" />
<line x1="432.9" y1="1554.6" x2="444.3" y2="1554.6" stroke="#ea302a" stroke-width="1.6" />
<line x1="513.8" y1="1516.8" x2="513.8" y2="1549.0" stroke="#ea302a" stroke-width="1.6" />
<line x1="508.1" y1="1516.8" x2="519.5" y2="1516.8" stroke="#ea302a" stroke-width="1.6" />
<line x1="508.1" y1="1549.0" x2="519.5" y2="1549.0" stroke="#ea302a" stroke-width="1.6" />
<circle cx="137.8" cy="1509.7" r="5.8" fill="#ea302a"/>
<circle cx="213.0" cy="1649.7" r="5.8" fill="#ea302a"/>
<circle cx="288.2" cy="1574.9" r="5.8" fill="#ea302a"/>
<circle cx="363.4" cy="1553.3" r="5.8" fill="#ea302a"/>
<circle cx="438.6" cy="1538.0" r="5.8" fill="#ea302a"/>
<circle cx="513.8" cy="1532.7" r="5.8" fill="#ea302a"/>
<polyline points="137.8,1555.1 213.0,1643.1 288.2,1549.1 363.4,1527.1 438.6,1523.4 513.8,1538.0" fill="none" stroke="#2b3e92" stroke-width="1.6" />
<line x1="137.8" y1="1545.4" x2="137.8" y2="1565.2" stroke="#2b3e92" stroke-width="1.6" />
<line x1="132.1" y1="1545.4" x2="143.5" y2="1545.4" stroke="#2b3e92" stroke-width="1.6" />
<line x1="132.1" y1="1565.2" x2="143.5" y2="1565.2" stroke="#2b3e92" stroke-width="1.6" />
<line x1="288.2" y1="1534.0" x2="288.2" y2="1563.8" stroke="#2b3e92" stroke-width="1.6" />
<line x1="282.5" y1="1534.0" x2="293.9" y2="1534.0" stroke="#2b3e92" stroke-width="1.6" />
<line x1="282.5" y1="1563.8" x2="293.9" y2="1563.8" stroke="#2b3e92" stroke-width="1.6" />
<line x1="363.4" y1="1514.2" x2="363.4" y2="1540.1" stroke="#2b3e92" stroke-width="1.6" />
<line x1="357.7" y1="1514.2" x2="369.1" y2="1514.2" stroke="#2b3e92" stroke-width="1.6" />
<line x1="357.7" y1="1540.1" x2="369.1" y2="1540.1" stroke="#2b3e92" stroke-width="1.6" />
<line x1="438.6" y1="1508.9" x2="438.6" y2="1538.0" stroke="#2b3e92" stroke-width="1.6" />
<line x1="432.9" y1="1508.9" x2="444.3" y2="1508.9" stroke="#2b3e92" stroke-width="1.6" />
<line x1="432.9" y1="1538.0" x2="444.3" y2="1538.0" stroke="#2b3e92" stroke-width="1.6" />
<line x1="513.8" y1="1520.8" x2="513.8" y2="1553.8" stroke="#2b3e92" stroke-width="1.6" />
<line x1="508.1" y1="1520.8" x2="519.5" y2="1520.8" stroke="#2b3e92" stroke-width="1.6" />
<line x1="508.1" y1="1553.8" x2="519.5" y2="1553.8" stroke="#2b3e92" stroke-width="1.6" />
<circle cx="137.8" cy="1555.1" r="5.8" fill="#2b3e92"/>
<circle cx="213.0" cy="1643.1" r="5.8" fill="#2b3e92"/>
<circle cx="288.2" cy="1549.1" r="5.8" fill="#2b3e92"/>
<circle cx="363.4" cy="1527.1" r="5.8" fill="#2b3e92"/>
<circle cx="438.6" cy="1523.4" r="5.8" fill="#2b3e92"/>
<circle cx="513.8" cy="1538.0" r="5.8" fill="#2b3e92"/>
<text font-size="44" font-weight="bold" transform="translate(0.0 1316.8) scale(1 1)">h</text>
<text font-size="25" transform="translate(158.1 1499.7) scale(1.0 1)"><tspan font-style="italic">P</tspan> = 0.1172</text>
<polyline points="149.6,1509.4 164.2,1509.4 164.2,1555.1 149.6,1555.1" fill="none" stroke="#222" stroke-width="1.3" />
<line x1="130.6" y1="1323.5" x2="163.1" y2="1323.5" stroke="#2b3e92" stroke-width="1.8" />
<circle cx="147.0" cy="1323.5" r="5.9" fill="#2b3e92"/>
<line x1="130.6" y1="1355.7" x2="163.1" y2="1355.7" stroke="#ea302a" stroke-width="1.8" />
<circle cx="147.0" cy="1355.7" r="5.9" fill="#ea302a"/>
<text font-size="29" transform="translate(179.0 1331.4) scale(1.0 1)">Before ablation</text>
<text font-size="29" transform="translate(179.0 1367.5) scale(1.0 1)">After ablation</text>
<rect x="699.0" y="1376.7" width="58.9" height="283.2" fill="#f2f2f2"/>
<rect x="763.2" y="1376.7" width="70.8" height="283.2" fill="#f2edf6"/>
<rect x="839.2" y="1376.7" width="285.0" height="283.2" fill="#c7e3e9"/>
<polyline points="723.0,1534.0 798.5,1652.8 874.0,1539.0 949.4,1524.9 1024.9,1505.6 1100.4,1524.9" fill="none" stroke="#e0ab9e" stroke-width="1.3" stroke-dasharray="4.5 2.8" opacity="0.62"/>
<polyline points="723.0,1549.8 798.5,1652.8 874.0,1546.1 949.4,1532.0 1024.9,1521.4 1100.4,1509.1" fill="none" stroke="#e0ab9e" stroke-width="1.3" stroke-dasharray="4.5 2.8" opacity="0.62"/>
<polyline points="723.0,1560.4 798.5,1651.5 874.0,1572.5 949.4,1563.7 1024.9,1560.1 1100.4,1556.6" fill="none" stroke="#e0ab9e" stroke-width="1.3" stroke-dasharray="4.5 2.8" opacity="0.62"/>
<polyline points="723.0,1565.7 798.5,1658.1 874.0,1590.1 949.4,1576.0 1024.9,1593.6 1100.4,1616.5" fill="none" stroke="#e0ab9e" stroke-width="1.3" stroke-dasharray="4.5 2.8" opacity="0.62"/>
<polyline points="723.0,1576.2 798.5,1652.8 874.0,1620.0 949.4,1600.6 1024.9,1616.5 1100.4,1600.6" fill="none" stroke="#e0ab9e" stroke-width="1.3" stroke-dasharray="4.5 2.8" opacity="0.62"/>
<polyline points="723.0,1618.5 798.5,1655.5 874.0,1648.2 949.4,1644.6 1024.9,1597.1 1100.4,1604.2" fill="none" stroke="#e0ab9e" stroke-width="1.3" stroke-dasharray="4.5 2.8" opacity="0.62"/>
<polyline points="723.0,1555.1 798.5,1653.4 874.0,1563.7 949.4,1546.1 1024.9,1528.5 1100.4,1510.8" fill="none" stroke="#e0ab9e" stroke-width="1.3" stroke-dasharray="4.5 2.8" opacity="0.62"/>
<polyline points="723.0,1571.0 798.5,1652.8 874.0,1625.3 949.4,1613.0 1024.9,1563.7 1100.4,1546.1" fill="none" stroke="#e0ab9e" stroke-width="1.3" stroke-dasharray="4.5 2.8" opacity="0.62"/>
<polyline points="723.0,1547.2 798.5,1654.1 874.0,1553.1 949.4,1547.8 1024.9,1544.3 1100.4,1535.5" fill="none" stroke="#e0ab9e" stroke-width="1.3" stroke-dasharray="4.5 2.8" opacity="0.62"/>
<polyline points="723.0,1576.2 798.5,1631.7 874.0,1475.6 949.4,1514.4 1024.9,1560.1 1100.4,1620.0" fill="none" stroke="#8a9db8" stroke-width="1.3" stroke-dasharray="4.5 2.8" opacity="0.62"/>
<polyline points="723.0,1584.2 798.5,1644.9 874.0,1546.1 949.4,1451.9 1024.9,1517.9 1100.4,1620.0" fill="none" stroke="#8a9db8" stroke-width="1.3" stroke-dasharray="4.5 2.8" opacity="0.62"/>
<polyline points="723.0,1589.5 798.5,1647.5 874.0,1568.9 949.4,1496.8 1024.9,1546.1 1100.4,1553.1" fill="none" stroke="#8a9db8" stroke-width="1.3" stroke-dasharray="4.5 2.8" opacity="0.62"/>
<polyline points="723.0,1597.4 798.5,1648.9 874.0,1544.3 949.4,1546.1 1024.9,1516.1 1100.4,1502.0" fill="none" stroke="#8a9db8" stroke-width="1.3" stroke-dasharray="4.5 2.8" opacity="0.62"/>
<polyline points="723.0,1602.7 798.5,1648.9 874.0,1563.7 949.4,1574.2 1024.9,1607.7 1100.4,1628.8" fill="none" stroke="#8a9db8" stroke-width="1.3" stroke-dasharray="4.5 2.8" opacity="0.62"/>
<polyline points="723.0,1607.9 798.5,1650.2 874.0,1616.5 949.4,1598.9 1024.9,1568.9 1100.4,1563.7" fill="none" stroke="#8a9db8" stroke-width="1.3" stroke-dasharray="4.5 2.8" opacity="0.62"/>
<polyline points="723.0,1618.5 798.5,1650.2 874.0,1630.6 949.4,1623.5 1024.9,1584.8 1100.4,1572.5" fill="none" stroke="#8a9db8" stroke-width="1.3" stroke-dasharray="4.5 2.8" opacity="0.62"/>
<polyline points="723.0,1623.8 798.5,1651.5 874.0,1637.6 949.4,1630.6 1024.9,1586.5 1100.4,1560.1" fill="none" stroke="#8a9db8" stroke-width="1.3" stroke-dasharray="4.5 2.8" opacity="0.62"/>
<polyline points="723.0,1594.7 798.5,1647.5 874.0,1644.6 949.4,1639.4 1024.9,1598.9 1100.4,1561.9" fill="none" stroke="#8a9db8" stroke-width="1.3" stroke-dasharray="4.5 2.8" opacity="0.62"/>
<polyline points="723.0,1613.2 798.5,1649.7 874.0,1554.9 949.4,1546.1 1024.9,1553.1 1100.4,1549.6" fill="none" stroke="#8a9db8" stroke-width="1.3" stroke-dasharray="4.5 2.8" opacity="0.62"/>
<polyline points="696.5,1376.2 696.5,1662.4 1124.2,1662.4" fill="none" stroke="#0a0a0a" stroke-width="3" stroke-linejoin="round"/>
<line x1="684.0" y1="1378.2" x2="696.5" y2="1378.2" stroke="#0a0a0a" stroke-width="2.7" />
<text font-size="31.6" text-anchor="end" transform="translate(677.4 1389.5) scale(0.917 1)">60</text>
<line x1="684.0" y1="1468.0" x2="696.5" y2="1468.0" stroke="#0a0a0a" stroke-width="2.7" />
<text font-size="31.6" text-anchor="end" transform="translate(677.4 1479.3) scale(0.917 1)">40</text>
<line x1="684.0" y1="1558.6" x2="696.5" y2="1558.6" stroke="#0a0a0a" stroke-width="2.7" />
<text font-size="31.6" text-anchor="end" transform="translate(677.4 1569.9) scale(0.917 1)">20</text>
<line x1="684.0" y1="1648.9" x2="696.5" y2="1648.9" stroke="#0a0a0a" stroke-width="2.7" />
<text font-size="31.6" text-anchor="end" transform="translate(677.4 1660.2) scale(0.917 1)">0</text>
<line x1="723.0" y1="1662.4" x2="723.0" y2="1674.9" stroke="#0a0a0a" stroke-width="2.7" />
<line x1="798.5" y1="1662.4" x2="798.5" y2="1674.9" stroke="#0a0a0a" stroke-width="2.7" />
<line x1="874.0" y1="1662.4" x2="874.0" y2="1674.9" stroke="#0a0a0a" stroke-width="2.7" />
<line x1="949.4" y1="1662.4" x2="949.4" y2="1674.9" stroke="#0a0a0a" stroke-width="2.7" />
<line x1="1024.9" y1="1662.4" x2="1024.9" y2="1674.9" stroke="#0a0a0a" stroke-width="2.7" />
<line x1="1100.4" y1="1662.4" x2="1100.4" y2="1674.9" stroke="#0a0a0a" stroke-width="2.7" />
<text font-size="31.6" text-anchor="middle" transform="translate(875.9 1709.4) scale(0.917 1)">15</text>
<text font-size="31.6" text-anchor="middle" transform="translate(953.2 1709.4) scale(0.917 1)">30</text>
<text font-size="31.6" text-anchor="middle" transform="translate(1031.3 1709.4) scale(0.917 1)">45</text>
<text font-size="31.6" text-anchor="middle" transform="translate(1100.3 1709.4) scale(0.917 1)">60</text>
<text font-size="31.6" text-anchor="middle" transform="translate(990.5 1746.3) scale(0.917 1)">Emergence (min)</text>
<text font-size="31.1" text-anchor="end" transform="translate(735.9 1695.8) scale(0.917 1) rotate(-26.6)">Awake</text>
<text font-size="31.1" text-anchor="end" transform="translate(826.2 1698.6) scale(0.917 1) rotate(-26.6)">Isoflurane</text>
<text font-size="28.4" text-anchor="middle" transform="translate(631.5 1512.5) scale(1.07 1) rotate(-90)">Time active/min (s)</text>
<polyline points="723.0,1545.9 798.5,1648.9 874.0,1596.6 949.4,1563.0 1024.9,1545.9 1100.4,1536.1" fill="none" stroke="#ea302a" stroke-width="1.6" />
<line x1="723.0" y1="1536.6" x2="723.0" y2="1554.6" stroke="#ea302a" stroke-width="1.6" />
<line x1="717.3" y1="1536.6" x2="728.7" y2="1536.6" stroke="#ea302a" stroke-width="1.6" />
<line x1="717.3" y1="1554.6" x2="728.7" y2="1554.6" stroke="#ea302a" stroke-width="1.6" />
<line x1="874.0" y1="1583.4" x2="874.0" y2="1609.3" stroke="#ea302a" stroke-width="1.6" />
<line x1="868.3" y1="1583.4" x2="879.7" y2="1583.4" stroke="#ea302a" stroke-width="1.6" />
<line x1="868.3" y1="1609.3" x2="879.7" y2="1609.3" stroke="#ea302a" stroke-width="1.6" />
<line x1="949.4" y1="1550.6" x2="949.4" y2="1575.5" stroke="#ea302a" stroke-width="1.6" />
<line x1="943.7" y1="1550.6" x2="955.1" y2="1550.6" stroke="#ea302a" stroke-width="1.6" />
<line x1="943.7" y1="1575.5" x2="955.1" y2="1575.5" stroke="#ea302a" stroke-width="1.6" />
<line x1="1024.9" y1="1534.8" x2="1024.9" y2="1557.8" stroke="#ea302a" stroke-width="1.6" />
<line x1="1019.2" y1="1534.8" x2="1030.6" y2="1534.8" stroke="#ea302a" stroke-width="1.6" />
<line x1="1019.2" y1="1557.8" x2="1030.6" y2="1557.8" stroke="#ea302a" stroke-width="1.6" />
<line x1="1100.4" y1="1524.5" x2="1100.4" y2="1547.7" stroke="#ea302a" stroke-width="1.6" />
<line x1="1094.7" y1="1524.5" x2="1106.1" y2="1524.5" stroke="#ea302a" stroke-width="1.6" />
<line x1="1094.7" y1="1547.7" x2="1106.1" y2="1547.7" stroke="#ea302a" stroke-width="1.6" />
<circle cx="723.0" cy="1545.9" r="5.8" fill="#ea302a"/>
<circle cx="798.5" cy="1648.9" r="5.8" fill="#ea302a"/>
<circle cx="874.0" cy="1596.6" r="5.8" fill="#ea302a"/>
<circle cx="949.4" cy="1563.0" r="5.8" fill="#ea302a"/>
<circle cx="1024.9" cy="1545.9" r="5.8" fill="#ea302a"/>
<circle cx="1100.4" cy="1536.1" r="5.8" fill="#ea302a"/>
<polyline points="723.0,1574.4 798.5,1644.9 874.0,1568.9 949.4,1538.0 1024.9,1545.9 1100.4,1554.6" fill="none" stroke="#2b3e92" stroke-width="1.6" />
<line x1="723.0" y1="1566.5" x2="723.0" y2="1582.3" stroke="#2b3e92" stroke-width="1.6" />
<line x1="717.3" y1="1566.5" x2="728.7" y2="1566.5" stroke="#2b3e92" stroke-width="1.6" />
<line x1="717.3" y1="1582.3" x2="728.7" y2="1582.3" stroke="#2b3e92" stroke-width="1.6" />
<line x1="874.0" y1="1552.5" x2="874.0" y2="1584.2" stroke="#2b3e92" stroke-width="1.6" />
<line x1="868.3" y1="1552.5" x2="879.7" y2="1552.5" stroke="#2b3e92" stroke-width="1.6" />
<line x1="868.3" y1="1584.2" x2="879.7" y2="1584.2" stroke="#2b3e92" stroke-width="1.6" />
<line x1="949.4" y1="1520.0" x2="949.4" y2="1555.1" stroke="#2b3e92" stroke-width="1.6" />
<line x1="943.7" y1="1520.0" x2="955.1" y2="1520.0" stroke="#2b3e92" stroke-width="1.6" />
<line x1="943.7" y1="1555.1" x2="955.1" y2="1555.1" stroke="#2b3e92" stroke-width="1.6" />
<line x1="1024.9" y1="1536.1" x2="1024.9" y2="1555.1" stroke="#2b3e92" stroke-width="1.6" />
<line x1="1019.2" y1="1536.1" x2="1030.6" y2="1536.1" stroke="#2b3e92" stroke-width="1.6" />
<line x1="1019.2" y1="1555.1" x2="1030.6" y2="1555.1" stroke="#2b3e92" stroke-width="1.6" />
<line x1="1100.4" y1="1543.8" x2="1100.4" y2="1566.2" stroke="#2b3e92" stroke-width="1.6" />
<line x1="1094.7" y1="1543.8" x2="1106.1" y2="1543.8" stroke="#2b3e92" stroke-width="1.6" />
<line x1="1094.7" y1="1566.2" x2="1106.1" y2="1566.2" stroke="#2b3e92" stroke-width="1.6" />
<circle cx="723.0" cy="1574.4" r="5.8" fill="#2b3e92"/>
<circle cx="798.5" cy="1644.9" r="5.8" fill="#2b3e92"/>
<circle cx="874.0" cy="1568.9" r="5.8" fill="#2b3e92"/>
<circle cx="949.4" cy="1538.0" r="5.8" fill="#2b3e92"/>
<circle cx="1024.9" cy="1545.9" r="5.8" fill="#2b3e92"/>
<circle cx="1100.4" cy="1554.6" r="5.8" fill="#2b3e92"/>
<text font-size="44" font-weight="bold" transform="translate(592.8 1316.8) scale(1 1)">i</text>
<text font-size="25" transform="translate(729.6 1519.5) scale(1.0 1)"><tspan font-style="italic">P</tspan> = 0.3658</text>
<polyline points="734.9,1545.9 749.4,1545.9 749.4,1575.5 734.9,1575.5" fill="none" stroke="#222" stroke-width="1.3" />
<rect x="1272.9" y="1375.4" width="57.7" height="284.7" fill="#f2f2f2"/>
<rect x="1335.9" y="1375.4" width="71.3" height="284.7" fill="#f2edf6"/>
<rect x="1411.9" y="1375.4" width="285.7" height="284.7" fill="#c7e3e9"/>
<polyline points="1294.9,1486.5 1370.3,1660.7 1445.7,1503.8 1521.2,1482.7 1596.6,1456.3 1672.0,1461.5" fill="none" stroke="#e0ab9e" stroke-width="1.3" stroke-dasharray="4.5 2.8" opacity="0.62"/>
<polyline points="1294.9,1512.9 1370.3,1654.1 1445.7,1519.6 1521.2,1510.8 1596.6,1468.6 1672.0,1477.4" fill="none" stroke="#e0ab9e" stroke-width="1.3" stroke-dasharray="4.5 2.8" opacity="0.62"/>
<polyline points="1294.9,1549.8 1370.3,1652.8 1445.7,1572.5 1521.2,1528.5 1596.6,1482.7 1672.0,1465.1" fill="none" stroke="#e0ab9e" stroke-width="1.3" stroke-dasharray="4.5 2.8" opacity="0.62"/>
<polyline points="1294.9,1565.7 1370.3,1654.1 1445.7,1590.1 1521.2,1553.1 1596.6,1553.1 1672.0,1486.2" fill="none" stroke="#e0ab9e" stroke-width="1.3" stroke-dasharray="4.5 2.8" opacity="0.62"/>
<polyline points="1294.9,1581.5 1370.3,1652.8 1445.7,1598.9 1521.2,1581.3 1596.6,1590.1 1672.0,1584.8" fill="none" stroke="#e0ab9e" stroke-width="1.3" stroke-dasharray="4.5 2.8" opacity="0.62"/>
<polyline points="1294.9,1602.7 1370.3,1654.1 1445.7,1630.6 1521.2,1607.7 1596.6,1621.8 1672.0,1611.2" fill="none" stroke="#e0ab9e" stroke-width="1.3" stroke-dasharray="4.5 2.8" opacity="0.62"/>
<polyline points="1294.9,1618.5 1370.3,1655.5 1445.7,1639.4 1521.2,1620.0 1596.6,1623.5 1672.0,1620.0" fill="none" stroke="#e0ab9e" stroke-width="1.3" stroke-dasharray="4.5 2.8" opacity="0.62"/>
<polyline points="1294.9,1629.1 1370.3,1655.5 1445.7,1658.7 1521.2,1651.7 1596.6,1625.3 1672.0,1613.0" fill="none" stroke="#e0ab9e" stroke-width="1.3" stroke-dasharray="4.5 2.8" opacity="0.62"/>
<polyline points="1294.9,1534.0 1370.3,1654.1 1445.7,1563.7 1521.2,1546.1 1596.6,1528.5 1672.0,1537.3" fill="none" stroke="#e0ab9e" stroke-width="1.3" stroke-dasharray="4.5 2.8" opacity="0.62"/>
<polyline points="1294.9,1571.0 1370.3,1653.4 1445.7,1616.5 1521.2,1590.1 1596.6,1598.9 1672.0,1630.6" fill="none" stroke="#e0ab9e" stroke-width="1.3" stroke-dasharray="4.5 2.8" opacity="0.62"/>
<polyline points="1294.9,1602.7 1370.3,1647.5 1445.7,1473.9 1521.2,1517.9 1596.6,1590.1 1672.0,1634.1" fill="none" stroke="#8a9db8" stroke-width="1.3" stroke-dasharray="4.5 2.8" opacity="0.62"/>
<polyline points="1294.9,1597.4 1370.3,1648.9 1445.7,1482.7 1521.2,1382.3 1596.6,1482.7 1672.0,1563.7" fill="none" stroke="#8a9db8" stroke-width="1.3" stroke-dasharray="4.5 2.8" opacity="0.62"/>
<polyline points="1294.9,1613.2 1370.3,1650.2 1445.7,1546.1 1521.2,1454.5 1596.6,1435.1 1672.0,1634.1" fill="none" stroke="#8a9db8" stroke-width="1.3" stroke-dasharray="4.5 2.8" opacity="0.62"/>
<polyline points="1294.9,1618.5 1370.3,1649.7 1445.7,1572.5 1521.2,1495.0 1596.6,1553.1 1672.0,1560.1" fill="none" stroke="#8a9db8" stroke-width="1.3" stroke-dasharray="4.5 2.8" opacity="0.62"/>
<polyline points="1294.9,1629.1 1370.3,1650.2 1445.7,1568.9 1521.2,1568.9 1596.6,1514.4 1672.0,1505.6" fill="none" stroke="#8a9db8" stroke-width="1.3" stroke-dasharray="4.5 2.8" opacity="0.62"/>
<polyline points="1294.9,1642.3 1370.3,1651.5 1445.7,1613.0 1521.2,1597.1 1596.6,1602.4 1672.0,1627.0" fill="none" stroke="#8a9db8" stroke-width="1.3" stroke-dasharray="4.5 2.8" opacity="0.62"/>
<polyline points="1294.9,1626.4 1370.3,1650.2 1445.7,1644.6 1521.2,1641.1 1596.6,1611.2 1672.0,1563.7" fill="none" stroke="#8a9db8" stroke-width="1.3" stroke-dasharray="4.5 2.8" opacity="0.62"/>
<polyline points="1294.9,1607.9 1370.3,1648.9 1445.7,1651.7 1521.2,1648.2 1596.6,1616.5 1672.0,1561.9" fill="none" stroke="#8a9db8" stroke-width="1.3" stroke-dasharray="4.5 2.8" opacity="0.62"/>
<polyline points="1294.9,1634.3 1370.3,1650.7 1445.7,1528.5 1521.2,1510.8 1596.6,1482.7 1672.0,1470.4" fill="none" stroke="#8a9db8" stroke-width="1.3" stroke-dasharray="4.5 2.8" opacity="0.62"/>
<polyline points="1294.9,1621.1 1370.3,1650.2 1445.7,1581.3 1521.2,1572.5 1596.6,1572.5 1672.0,1563.7" fill="none" stroke="#8a9db8" stroke-width="1.3" stroke-dasharray="4.5 2.8" opacity="0.62"/>
<polyline points="1270.4,1374.9 1270.4,1662.6 1697.6,1662.6" fill="none" stroke="#0a0a0a" stroke-width="3" stroke-linejoin="round"/>
<line x1="1257.9" y1="1376.9" x2="1270.4" y2="1376.9" stroke="#0a0a0a" stroke-width="2.7" />
<text font-size="31.6" text-anchor="end" transform="translate(1256.6 1388.2) scale(0.917 1)">1000</text>
<line x1="1257.9" y1="1447.4" x2="1270.4" y2="1447.4" stroke="#0a0a0a" stroke-width="2.7" />
<text font-size="31.6" text-anchor="end" transform="translate(1252.2 1458.7) scale(0.917 1)">750</text>
<line x1="1257.9" y1="1513.4" x2="1270.4" y2="1513.4" stroke="#0a0a0a" stroke-width="2.7" />
<text font-size="31.6" text-anchor="end" transform="translate(1252.2 1524.7) scale(0.917 1)">500</text>
<line x1="1257.9" y1="1584.2" x2="1270.4" y2="1584.2" stroke="#0a0a0a" stroke-width="2.7" />
<text font-size="31.6" text-anchor="end" transform="translate(1252.2 1595.5) scale(0.917 1)">250</text>
<line x1="1257.9" y1="1648.9" x2="1270.4" y2="1648.9" stroke="#0a0a0a" stroke-width="2.7" />
<text font-size="31.6" text-anchor="end" transform="translate(1247.8 1660.2) scale(0.917 1)">0</text>
<line x1="1294.9" y1="1662.6" x2="1294.9" y2="1675.1" stroke="#0a0a0a" stroke-width="2.7" />
<line x1="1370.3" y1="1662.6" x2="1370.3" y2="1675.1" stroke="#0a0a0a" stroke-width="2.7" />
<line x1="1445.7" y1="1662.6" x2="1445.7" y2="1675.1" stroke="#0a0a0a" stroke-width="2.7" />
<line x1="1521.2" y1="1662.6" x2="1521.2" y2="1675.1" stroke="#0a0a0a" stroke-width="2.7" />
<line x1="1596.6" y1="1662.6" x2="1596.6" y2="1675.1" stroke="#0a0a0a" stroke-width="2.7" />
<line x1="1672.0" y1="1662.6" x2="1672.0" y2="1675.1" stroke="#0a0a0a" stroke-width="2.7" />
<text font-size="31.6" text-anchor="middle" transform="translate(1447.7 1708.5) scale(0.917 1)">15</text>
<text font-size="31.6" text-anchor="middle" transform="translate(1524.7 1708.5) scale(0.917 1)">30</text>
<text font-size="31.6" text-anchor="middle" transform="translate(1602.1 1708.5) scale(0.917 1)">45</text>
<text font-size="31.6" text-anchor="middle" transform="translate(1672.0 1708.5) scale(0.917 1)">60</text>
<text font-size="31.6" text-anchor="middle" transform="translate(1561.9 1745.7) scale(0.917 1)">Emergence (min)</text>
<text font-size="31.1" text-anchor="end" transform="translate(1307.0 1696.0) scale(0.917 1) rotate(-26.6)">Awake</text>
<text font-size="31.1" text-anchor="end" transform="translate(1397.7 1698.8) scale(0.917 1) rotate(-26.6)">Isoflurane</text>
<text font-size="29.6" text-anchor="middle" transform="translate(1191.9 1525.8) scale(1.07 1) rotate(-90)">Signal area ( ΔF/F·s)</text>
<polyline points="1294.9,1534.5 1370.3,1648.9 1445.7,1588.1 1521.2,1551.7 1596.6,1530.6 1672.0,1526.9" fill="none" stroke="#ea302a" stroke-width="1.6" />
<line x1="1294.9" y1="1520.3" x2="1294.9" y2="1549.0" stroke="#ea302a" stroke-width="1.6" />
<line x1="1289.2" y1="1520.3" x2="1300.6" y2="1520.3" stroke="#ea302a" stroke-width="1.6" />
<line x1="1289.2" y1="1549.0" x2="1300.6" y2="1549.0" stroke="#ea302a" stroke-width="1.6" />
<line x1="1445.7" y1="1571.0" x2="1445.7" y2="1605.8" stroke="#ea302a" stroke-width="1.6" />
<line x1="1440.0" y1="1571.0" x2="1451.4" y2="1571.0" stroke="#ea302a" stroke-width="1.6" />
<line x1="1440.0" y1="1605.8" x2="1451.4" y2="1605.8" stroke="#ea302a" stroke-width="1.6" />
<line x1="1521.2" y1="1533.2" x2="1521.2" y2="1570.4" stroke="#ea302a" stroke-width="1.6" />
<line x1="1515.5" y1="1533.2" x2="1526.9" y2="1533.2" stroke="#ea302a" stroke-width="1.6" />
<line x1="1515.5" y1="1570.4" x2="1526.9" y2="1570.4" stroke="#ea302a" stroke-width="1.6" />
<line x1="1596.6" y1="1509.4" x2="1596.6" y2="1551.2" stroke="#ea302a" stroke-width="1.6" />
<line x1="1590.9" y1="1509.4" x2="1602.3" y2="1509.4" stroke="#ea302a" stroke-width="1.6" />
<line x1="1590.9" y1="1551.2" x2="1602.3" y2="1551.2" stroke="#ea302a" stroke-width="1.6" />
<line x1="1672.0" y1="1507.1" x2="1672.0" y2="1546.7" stroke="#ea302a" stroke-width="1.6" />
<line x1="1666.3" y1="1507.1" x2="1677.7" y2="1507.1" stroke="#ea302a" stroke-width="1.6" />
<line x1="1666.3" y1="1546.7" x2="1677.7" y2="1546.7" stroke="#ea302a" stroke-width="1.6" />
<circle cx="1294.9" cy="1534.5" r="5.8" fill="#ea302a"/>
<circle cx="1370.3" cy="1648.9" r="5.8" fill="#ea302a"/>
<circle cx="1445.7" cy="1588.1" r="5.8" fill="#ea302a"/>
<circle cx="1521.2" cy="1551.7" r="5.8" fill="#ea302a"/>
<circle cx="1596.6" cy="1530.6" r="5.8" fill="#ea302a"/>
<circle cx="1672.0" cy="1526.9" r="5.8" fill="#ea302a"/>
<polyline points="1294.9,1585.0 1370.3,1647.0 1445.7,1568.3 1521.2,1526.6 1596.6,1536.6 1672.0,1548.5" fill="none" stroke="#2b3e92" stroke-width="1.6" />
<line x1="1294.9" y1="1575.7" x2="1294.9" y2="1594.2" stroke="#2b3e92" stroke-width="1.6" />
<line x1="1289.2" y1="1575.7" x2="1300.6" y2="1575.7" stroke="#2b3e92" stroke-width="1.6" />
<line x1="1289.2" y1="1594.2" x2="1300.6" y2="1594.2" stroke="#2b3e92" stroke-width="1.6" />
<line x1="1445.7" y1="1549.0" x2="1445.7" y2="1588.0" stroke="#2b3e92" stroke-width="1.6" />
<line x1="1440.0" y1="1549.0" x2="1451.4" y2="1549.0" stroke="#2b3e92" stroke-width="1.6" />
<line x1="1440.0" y1="1588.0" x2="1451.4" y2="1588.0" stroke="#2b3e92" stroke-width="1.6" />
<line x1="1521.2" y1="1500.7" x2="1521.2" y2="1552.5" stroke="#2b3e92" stroke-width="1.6" />
<line x1="1515.5" y1="1500.7" x2="1526.9" y2="1500.7" stroke="#2b3e92" stroke-width="1.6" />
<line x1="1515.5" y1="1552.5" x2="1526.9" y2="1552.5" stroke="#2b3e92" stroke-width="1.6" />
<line x1="1596.6" y1="1517.6" x2="1596.6" y2="1555.1" stroke="#2b3e92" stroke-width="1.6" />
<line x1="1590.9" y1="1517.6" x2="1602.3" y2="1517.6" stroke="#2b3e92" stroke-width="1.6" />
<line x1="1590.9" y1="1555.1" x2="1602.3" y2="1555.1" stroke="#2b3e92" stroke-width="1.6" />
<line x1="1672.0" y1="1533.2" x2="1672.0" y2="1563.8" stroke="#2b3e92" stroke-width="1.6" />
<line x1="1666.3" y1="1533.2" x2="1677.7" y2="1533.2" stroke="#2b3e92" stroke-width="1.6" />
<line x1="1666.3" y1="1563.8" x2="1677.7" y2="1563.8" stroke="#2b3e92" stroke-width="1.6" />
<circle cx="1294.9" cy="1585.0" r="5.8" fill="#2b3e92"/>
<circle cx="1370.3" cy="1647.0" r="5.8" fill="#2b3e92"/>
<circle cx="1445.7" cy="1568.3" r="5.8" fill="#2b3e92"/>
<circle cx="1521.2" cy="1526.6" r="5.8" fill="#2b3e92"/>
<circle cx="1596.6" cy="1536.6" r="5.8" fill="#2b3e92"/>
<circle cx="1672.0" cy="1548.5" r="5.8" fill="#2b3e92"/>
<text font-size="44" font-weight="bold" transform="translate(1156.4 1316.8) scale(1 1)">j</text>
<text font-size="25" transform="translate(1311.6 1499.7) scale(1.0 1)"><tspan font-style="italic">P</tspan> = 0.2096</text>
<polyline points="1306.0,1535.3 1321.3,1535.3 1321.3,1585.0 1306.0,1585.0" fill="none" stroke="#222" stroke-width="1.3" />
</svg>
</body></html>
